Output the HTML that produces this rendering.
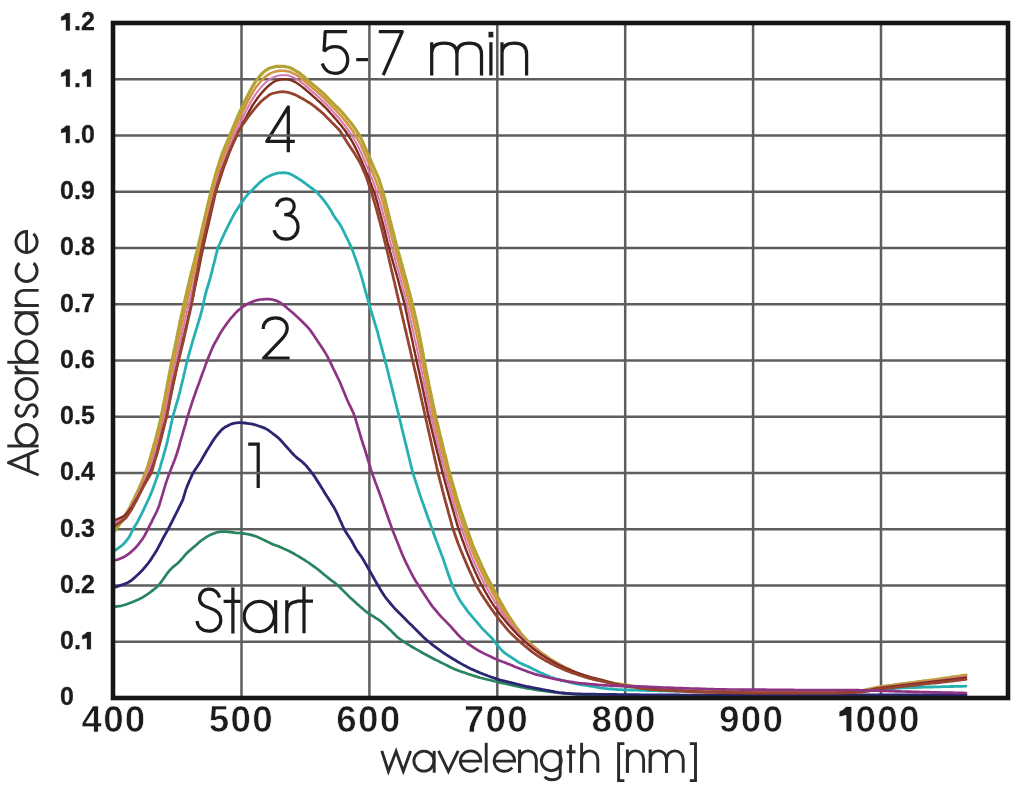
<!DOCTYPE html>
<html><head><meta charset="utf-8"><title>Absorbance chart</title>
<style>html,body{margin:0;padding:0;background:#fff;overflow:hidden}svg{display:block;filter:blur(0.35px)}</style>
</head><body>
<svg width="1024" height="785" viewBox="0 0 1024 785">
<rect width="1024" height="785" fill="#fff"/>
<g fill="none" stroke="#1c1c1c" stroke-width="3.25" stroke-linejoin="round"><path d="M347.1,31.7 H325.2 L324,51.5"/><path d="M324,51.5 C327,47.8 331,46.6 335.5,46.6 C342.5,46.6 347.7,52.3 347.7,60 C347.7,67.8 342.3,73.4 335.3,73.4 C329,73.4 324.3,69.5 322.2,63.5"/><path d="M356.2,59.6 H368"/><path d="M378.8,31.7 H402.3 L383.2,75.2"/><path d="M431.7,75.5 V42.2 M431.7,53 C431.7,46.5 436,43.2 444.2,43.2 C452.5,43.2 456.9,47 456.9,54 V75.5 M456.9,54 C456.9,47 461.2,43.2 469.2,43.2 C477.2,43.2 481.5,47 481.5,54 V75.5"/><path d="M490.9,42.2 V75.5"/><path d="M502,75.5 V42.2 M502,53 C502,46.5 506.5,43.2 514.3,43.2 C522.2,43.2 526.6,47 526.6,54 V75.5"/><path d="M288.3,152.2 V106.8 L266.8,141.3 H294.8"/><path d="M276.6,206.8 C277.3,201.6 281.2,198.8 286.4,198.8 C291.4,198.8 294.2,202.2 294.2,206.4 C294.2,211 290.8,214.6 285.2,214.6 H284.2 M285.2,214.6 C293,214.6 298,219.6 298,227.2 C298,234.2 292.8,239.2 286.2,239.2 C280,239.2 275.6,235.8 274,230.2"/><path d="M263.2,329 C263.2,322 268.5,317.9 275.6,317.9 C282.6,317.9 287.2,322.3 287.2,328.2 C287.2,332.5 285,335.6 282,338.8 L263.6,358.2 H289.6"/><path d="M248.2,444.2 H258.2 M258.2,442.6 V488"/><path d="M219.6,597.6 C217.8,592 213.8,589.2 209,589.2 C203.4,589.2 199.6,593.4 199.6,598.6 C199.6,604.6 205,606.6 210.2,608.2 C216.4,610 220.8,613 220.8,620.2 C220.8,627 215.6,631.2 209,631.2 C202.2,631.2 197.8,627 197,621"/><path d="M232.9,587.6 V633.4 M223.6,601.4 H241"/><path d="M275.6,600.2 V633.3"/><path d="M286.8,633.3 V600.2 M286.8,613.5 C286.8,606 290.6,601.5 297.2,601.5"/><path d="M304,586.8 V633.3 M296.5,601.2 H313"/><circle cx="259.3" cy="616.4" r="15.1"/></g><rect x="488.5" y="31.8" width="4.8" height="5.6" fill="#1e1e1e"/>
<g stroke="#5e5e5e" stroke-width="2.5"><line x1="113" y1="79.25" x2="1008" y2="79.25"/><line x1="113" y1="135.50" x2="1008" y2="135.50"/><line x1="113" y1="191.75" x2="1008" y2="191.75"/><line x1="113" y1="248.00" x2="1008" y2="248.00"/><line x1="113" y1="304.25" x2="1008" y2="304.25"/><line x1="113" y1="360.50" x2="1008" y2="360.50"/><line x1="113" y1="416.75" x2="1008" y2="416.75"/><line x1="113" y1="473.00" x2="1008" y2="473.00"/><line x1="113" y1="529.25" x2="1008" y2="529.25"/><line x1="113" y1="585.50" x2="1008" y2="585.50"/><line x1="113" y1="641.75" x2="1008" y2="641.75"/><line x1="241.50" y1="23" x2="241.50" y2="698"/><line x1="369.40" y1="23" x2="369.40" y2="698"/><line x1="497.30" y1="23" x2="497.30" y2="698"/><line x1="625.20" y1="23" x2="625.20" y2="698"/><line x1="753.10" y1="23" x2="753.10" y2="698"/><line x1="881.00" y1="23" x2="881.00" y2="698"/></g>
<path d="M113.0,607.0 L115.4,606.7 L117.2,606.4 L119.2,606.1 L121.3,605.8 L123.3,605.3 L125.3,604.7 L127.3,604.0 L129.3,603.2 L131.2,602.5 L133.2,601.7 L135.1,600.9 L137.1,600.1 L139.0,599.2 L140.9,598.3 L142.7,597.4 L144.5,596.2 L146.2,595.1 L148.0,593.9 L149.7,592.7 L151.4,591.4 L153.0,590.1 L154.7,588.8 L156.3,587.5 L157.8,586.0 L159.2,584.5 L160.5,582.9 L161.7,581.2 L163.0,579.5 L164.2,577.7 L165.4,576.0 L166.6,574.3 L167.8,572.6 L169.1,571.0 L170.5,569.4 L172.0,568.0 L173.6,566.6 L175.2,565.3 L176.8,563.9 L178.4,562.5 L179.9,561.1 L181.3,559.5 L182.7,557.9 L184.0,556.3 L185.4,554.7 L186.8,553.2 L188.3,551.7 L189.9,550.4 L191.5,549.0 L193.1,547.6 L194.7,546.2 L196.2,544.9 L197.8,543.5 L199.4,542.1 L201.0,540.8 L202.7,539.5 L204.5,538.3 L206.2,537.2 L208.0,536.1 L209.8,535.1 L211.7,534.2 L213.7,533.4 L215.6,532.7 L217.6,532.2 L219.7,531.8 L221.8,531.6 L223.9,531.5 L225.9,531.6 L228.0,531.8 L230.1,532.1 L232.2,532.4 L234.3,532.7 L236.3,532.9 L238.4,533.0 L240.5,533.2 L242.6,533.4 L244.7,533.7 L246.8,534.0 L248.8,534.4 L250.9,534.9 L252.9,535.4 L254.9,536.0 L256.9,536.8 L258.8,537.6 L260.7,538.5 L262.6,539.4 L264.5,540.3 L266.4,541.2 L268.3,542.1 L270.1,543.0 L272.1,543.9 L274.0,544.7 L276.0,545.4 L278.0,546.1 L279.9,546.9 L281.8,547.7 L283.7,548.6 L285.6,549.5 L287.5,550.4 L289.4,551.3 L291.3,552.3 L293.2,553.3 L295.0,554.3 L296.8,555.4 L298.6,556.4 L300.4,557.5 L302.2,558.6 L304.0,559.7 L305.7,560.8 L307.5,562.0 L309.2,563.2 L310.9,564.4 L312.7,565.6 L314.4,566.8 L316.1,568.0 L317.8,569.3 L319.4,570.6 L321.0,571.9 L322.6,573.3 L324.2,574.7 L325.9,576.0 L327.5,577.3 L329.1,578.6 L330.8,579.9 L332.5,581.2 L334.2,582.4 L335.8,583.7 L337.4,585.1 L339.0,586.5 L340.5,588.0 L341.9,589.4 L343.4,590.9 L344.9,592.4 L346.4,593.9 L347.9,595.4 L349.4,596.9 L350.9,598.3 L352.5,599.7 L354.0,601.1 L355.6,602.5 L357.2,603.9 L358.7,605.3 L360.3,606.7 L361.9,608.1 L363.5,609.5 L365.1,610.8 L366.8,612.1 L368.5,613.3 L370.2,614.5 L372.0,615.6 L373.8,616.7 L375.5,617.8 L377.3,618.9 L379.1,620.1 L380.8,621.3 L382.4,622.7 L383.9,624.1 L385.5,625.5 L387.0,626.9 L388.6,628.4 L390.1,629.8 L391.6,631.3 L393.0,632.8 L394.5,634.3 L396.0,635.8 L397.5,637.2 L399.2,638.5 L400.8,639.8 L402.6,640.9 L404.3,642.1 L406.1,643.2 L407.9,644.3 L409.7,645.4 L411.5,646.5 L413.3,647.5 L415.1,648.6 L417.0,649.6 L418.8,650.6 L420.6,651.7 L422.4,652.7 L424.3,653.8 L426.1,654.8 L427.9,655.8 L429.8,656.8 L431.7,657.8 L433.5,658.7 L435.4,659.7 L437.3,660.6 L439.2,661.5 L441.0,662.5 L442.9,663.4 L444.8,664.4 L446.7,665.3 L448.6,666.3 L450.4,667.2 L452.3,668.1 L454.3,668.9 L456.2,669.7 L458.2,670.5 L460.1,671.2 L462.1,671.9 L464.1,672.6 L466.1,673.3 L468.1,674.0 L470.1,674.6 L472.1,675.3 L474.1,675.9 L476.1,676.5 L478.1,677.1 L480.1,677.7 L482.2,678.2 L484.2,678.7 L486.2,679.2 L488.3,679.7 L490.3,680.2 L492.4,680.7 L494.4,681.2 L496.4,681.6 L498.5,682.1 L500.5,682.6 L502.6,683.1 L504.6,683.5 L506.7,684.0 L508.7,684.5 L510.8,684.9 L512.8,685.4 L514.9,685.8 L516.9,686.3 L519.0,686.7 L521.1,687.2 L523.1,687.5 L525.2,687.9 L527.3,688.3 L529.3,688.6 L531.4,689.0 L533.5,689.4 L535.5,689.7 L537.6,690.1 L539.7,690.4 L541.8,690.7 L543.8,691.0 L545.9,691.2 L548.0,691.5 L550.1,691.8 L552.2,692.0 L554.3,692.3 L556.4,692.5 L558.4,692.8 L560.5,693.0 L562.6,693.2 L564.7,693.4 L566.8,693.5 L568.9,693.7 L571.0,693.8 L573.1,694.0 L575.2,694.1 L577.3,694.3 L579.4,694.4 L581.5,694.5 L583.6,694.6 L585.7,694.6 L587.8,694.7 L589.9,694.7 L592.0,694.7 L594.1,694.8 L596.2,694.8 L598.3,694.9 L600.4,694.9 L602.5,694.9 L604.6,695.0 L606.7,695.0 L608.8,695.1 L610.9,695.1 L613.0,695.2 L615.1,695.2 L617.2,695.2 L619.3,695.3 L621.4,695.3 L623.5,695.3 L625.6,695.3 L627.7,695.3 L629.8,695.4 L631.9,695.4 L634.0,695.4 L636.1,695.4 L638.2,695.4 L640.3,695.4 L642.4,695.4 L644.5,695.5 L646.6,695.5 L648.7,695.5 L650.8,695.5 L652.9,695.5 L655.0,695.5 L657.1,695.5 L659.2,695.5 L661.3,695.6 L663.4,695.6 L665.5,695.6 L667.6,695.6 L669.7,695.6 L671.8,695.6 L673.9,695.6 L676.0,695.7 L678.1,695.7 L680.2,695.7 L682.3,695.7 L684.4,695.7 L686.5,695.7 L688.6,695.7 L690.7,695.7 L692.8,695.8 L694.9,695.8 L697.0,695.8 L699.1,695.8 L701.2,695.8 L703.3,695.8 L705.4,695.8 L707.5,695.8 L709.6,695.8 L711.7,695.8 L713.9,695.8 L716.0,695.8 L718.1,695.8 L720.2,695.8 L722.3,695.8 L724.4,695.8 L726.5,695.8 L728.6,695.8 L730.7,695.8 L732.8,695.8 L734.9,695.8 L737.0,695.8 L739.1,695.8 L741.2,695.8 L743.3,695.8 L745.4,695.8 L747.5,695.8 L749.6,695.8 L751.7,695.8 L753.8,695.8 L755.9,695.8 L758.0,695.8 L760.1,695.8 L762.2,695.8 L764.3,695.8 L766.4,695.8 L768.5,695.8 L770.6,695.8 L772.7,695.8 L774.8,695.8 L776.9,695.8 L779.0,695.8 L781.1,695.8 L783.2,695.8 L785.3,695.8 L787.4,695.8 L789.5,695.8 L791.6,695.8 L793.7,695.8 L795.8,695.8 L797.9,695.8 L800.0,695.8 L802.1,695.8 L804.2,695.8 L806.3,695.8 L808.4,695.8 L810.5,695.8 L812.6,695.8 L814.7,695.7 L816.8,695.7 L818.9,695.7 L821.0,695.7 L823.1,695.7 L825.2,695.7 L827.3,695.7 L829.4,695.7 L831.5,695.7 L833.6,695.7 L835.7,695.7 L837.8,695.7 L839.9,695.7 L842.0,695.6 L844.1,695.6 L846.2,695.6 L848.3,695.6 L850.4,695.6 L852.5,695.6 L854.6,695.6 L856.7,695.6 L858.8,695.6 L860.9,695.6 L863.0,695.6 L865.1,695.6 L867.2,695.5 L869.3,695.5 L871.4,695.5 L873.5,695.5 L875.6,695.5 L877.7,695.5 L879.8,695.5 L882.0,695.5 L884.1,695.5 L886.2,695.5 L888.3,695.5 L890.4,695.5 L892.5,695.5 L894.6,695.4 L896.7,695.4 L898.8,695.4 L900.9,695.4 L903.0,695.4 L905.1,695.4 L907.2,695.4 L909.3,695.4 L911.4,695.4 L913.5,695.4 L915.6,695.4 L917.7,695.4 L919.8,695.4 L921.9,695.4 L924.0,695.3 L926.1,695.3 L928.2,695.3 L930.3,695.3 L932.4,695.3 L934.5,695.3 L936.6,695.3 L938.7,695.3 L940.8,695.3 L942.9,695.3 L945.0,695.3 L947.1,695.3 L949.2,695.3 L951.3,695.3 L953.4,695.2 L955.5,695.2 L957.6,695.2 L959.7,695.2 L961.8,695.2 L963.6,695.2 L966.0,695.2 L966.0,695.2" fill="none" stroke="#28845e" stroke-width="2.7" stroke-linejoin="round" stroke-linecap="round"/>
<path d="M113.0,588.0 L115.2,587.2 L117.0,586.6 L118.9,585.9 L120.9,585.2 L122.9,584.6 L124.9,583.9 L126.8,583.1 L128.7,582.2 L130.4,581.0 L132.1,579.8 L133.7,578.4 L135.3,577.0 L136.8,575.6 L138.3,574.2 L139.8,572.7 L141.3,571.2 L142.8,569.7 L144.1,568.1 L145.5,566.5 L146.8,564.9 L148.2,563.3 L149.4,561.6 L150.6,559.9 L151.8,558.1 L152.9,556.3 L154.1,554.6 L155.2,552.8 L156.3,551.0 L157.3,549.2 L158.3,547.4 L159.3,545.5 L160.3,543.6 L161.3,541.8 L162.2,539.9 L163.2,538.0 L164.2,536.2 L165.2,534.4 L166.2,532.5 L167.3,530.7 L168.3,528.8 L169.3,527.0 L170.2,525.1 L171.2,523.3 L172.1,521.4 L173.1,519.5 L174.0,517.6 L174.9,515.7 L175.9,513.9 L176.8,512.0 L177.8,510.1 L178.7,508.2 L179.6,506.3 L180.6,504.5 L181.5,502.6 L182.4,500.7 L183.2,498.7 L183.8,496.7 L184.4,494.7 L185.0,492.7 L185.6,490.7 L186.2,488.7 L187.0,486.7 L187.7,484.8 L188.6,482.9 L189.4,480.9 L190.3,479.0 L191.1,477.1 L192.0,475.2 L193.0,473.3 L194.0,471.5 L195.1,469.8 L196.3,468.0 L197.5,466.3 L198.6,464.5 L199.8,462.7 L200.9,460.9 L201.9,459.1 L202.9,457.3 L204.0,455.5 L205.0,453.7 L206.1,451.8 L207.2,450.0 L208.3,448.2 L209.4,446.5 L210.5,444.7 L211.6,442.9 L212.7,441.1 L213.9,439.4 L215.1,437.7 L216.4,436.0 L217.7,434.4 L219.0,432.7 L220.4,431.2 L221.8,429.6 L223.4,428.3 L225.1,427.1 L226.9,426.2 L228.8,425.2 L230.7,424.3 L232.6,423.6 L234.7,423.1 L236.7,422.9 L238.8,422.7 L240.9,422.6 L243.0,422.8 L245.1,423.0 L247.1,423.3 L249.2,423.6 L251.3,423.9 L253.3,424.4 L255.3,424.9 L257.3,425.5 L259.3,426.2 L261.3,426.9 L263.3,427.6 L265.2,428.4 L267.0,429.4 L268.8,430.5 L270.5,431.8 L272.1,433.0 L273.8,434.3 L275.5,435.6 L277.1,436.9 L278.7,438.2 L280.2,439.7 L281.6,441.2 L283.0,442.8 L284.4,444.4 L285.8,446.0 L287.2,447.5 L288.6,449.1 L290.0,450.7 L291.4,452.3 L292.8,453.8 L294.2,455.3 L295.8,456.7 L297.4,458.1 L299.0,459.4 L300.7,460.7 L302.3,462.0 L303.9,463.4 L305.4,464.9 L306.8,466.4 L308.1,468.1 L309.4,469.7 L310.7,471.3 L312.0,473.0 L313.3,474.6 L314.5,476.4 L315.6,478.1 L316.7,479.9 L317.9,481.7 L319.0,483.5 L320.1,485.3 L321.2,487.1 L322.3,488.8 L323.4,490.6 L324.5,492.4 L325.6,494.2 L326.7,496.0 L327.9,497.7 L329.0,499.5 L330.1,501.3 L331.2,503.1 L332.3,504.9 L333.5,506.6 L334.5,508.4 L335.5,510.3 L336.5,512.2 L337.4,514.1 L338.2,516.0 L339.1,517.9 L339.9,519.8 L340.8,521.7 L341.7,523.6 L342.5,525.6 L343.4,527.5 L344.3,529.3 L345.4,531.2 L346.5,532.9 L347.6,534.7 L348.8,536.4 L349.9,538.2 L351.1,540.0 L352.1,541.8 L353.1,543.6 L354.1,545.5 L355.1,547.3 L356.1,549.2 L357.2,550.9 L358.5,552.6 L359.7,554.3 L361.0,556.0 L362.1,557.7 L363.2,559.5 L364.3,561.4 L365.3,563.2 L366.4,565.0 L367.4,566.8 L368.4,568.7 L369.5,570.5 L370.5,572.3 L371.5,574.1 L372.6,576.0 L373.6,577.8 L374.6,579.6 L375.7,581.5 L376.7,583.3 L377.8,585.1 L378.9,586.9 L379.9,588.7 L381.0,590.5 L382.1,592.3 L383.2,594.1 L384.4,595.8 L385.6,597.5 L386.9,599.2 L388.3,600.8 L389.6,602.4 L390.9,604.0 L392.3,605.6 L393.6,607.2 L395.0,608.8 L396.5,610.3 L398.0,611.8 L399.5,613.3 L401.0,614.7 L402.5,616.2 L404.0,617.7 L405.5,619.2 L406.9,620.7 L408.4,622.2 L409.9,623.7 L411.4,625.1 L412.9,626.6 L414.3,628.1 L415.8,629.6 L417.3,631.1 L418.8,632.6 L420.3,634.1 L421.8,635.6 L423.3,637.0 L424.8,638.4 L426.4,639.8 L428.0,641.2 L429.6,642.5 L431.3,643.8 L432.9,645.1 L434.6,646.4 L436.3,647.7 L438.0,648.9 L439.7,650.1 L441.4,651.4 L443.1,652.6 L444.8,653.7 L446.6,654.9 L448.4,656.0 L450.2,657.1 L451.9,658.2 L453.7,659.3 L455.5,660.4 L457.3,661.5 L459.1,662.5 L461.0,663.6 L462.8,664.6 L464.6,665.6 L466.5,666.6 L468.3,667.6 L470.2,668.5 L472.1,669.4 L474.1,670.2 L476.0,671.1 L477.9,671.9 L479.9,672.7 L481.8,673.5 L483.8,674.3 L485.7,675.0 L487.7,675.8 L489.7,676.5 L491.6,677.2 L493.6,677.9 L495.6,678.6 L497.6,679.2 L499.6,679.8 L501.6,680.3 L503.7,680.8 L505.7,681.3 L507.8,681.8 L509.8,682.3 L511.9,682.8 L513.9,683.3 L515.9,683.9 L518.0,684.4 L520.0,684.9 L522.0,685.4 L524.1,685.8 L526.2,686.3 L528.2,686.7 L530.3,687.1 L532.3,687.5 L534.4,687.9 L536.5,688.3 L538.5,688.7 L540.6,689.1 L542.6,689.5 L544.7,689.9 L546.8,690.3 L548.8,690.7 L550.9,691.1 L553.0,691.5 L555.0,691.9 L557.1,692.2 L559.2,692.6 L561.2,692.8 L563.3,693.0 L565.4,693.2 L567.5,693.3 L569.6,693.5 L571.7,693.6 L573.8,693.8 L575.9,693.9 L578.0,694.0 L580.1,694.0 L582.2,694.1 L584.3,694.1 L586.4,694.1 L588.5,694.2 L590.6,694.2 L592.7,694.2 L594.8,694.2 L596.9,694.3 L599.0,694.3 L601.1,694.3 L603.2,694.4 L605.3,694.4 L607.4,694.4 L609.5,694.5 L611.6,694.5 L613.7,694.5 L615.8,694.5 L617.9,694.6 L620.0,694.6 L622.1,694.6 L624.2,694.6 L626.3,694.6 L628.4,694.7 L630.5,694.7 L632.6,694.7 L634.7,694.7 L636.8,694.7 L638.9,694.7 L641.0,694.8 L643.1,694.8 L645.2,694.8 L647.3,694.8 L649.4,694.8 L651.5,694.8 L653.6,694.9 L655.7,694.9 L657.8,694.9 L659.9,694.9 L662.0,694.9 L664.1,694.9 L666.2,694.9 L668.3,695.0 L670.4,695.0 L672.6,695.0 L674.7,695.0 L676.8,695.0 L678.9,695.0 L681.0,695.1 L683.1,695.1 L685.2,695.1 L687.3,695.1 L689.4,695.1 L691.5,695.1 L693.6,695.2 L695.7,695.2 L697.8,695.2 L699.9,695.2 L702.0,695.2 L704.1,695.2 L706.2,695.2 L708.3,695.2 L710.4,695.2 L712.5,695.2 L714.6,695.2 L716.7,695.2 L718.8,695.2 L720.9,695.2 L723.0,695.2 L725.1,695.2 L727.2,695.2 L729.3,695.2 L731.4,695.2 L733.5,695.2 L735.6,695.2 L737.7,695.2 L739.8,695.2 L741.9,695.2 L744.0,695.2 L746.1,695.2 L748.2,695.2 L750.3,695.2 L752.4,695.2 L754.5,695.2 L756.6,695.2 L758.7,695.2 L760.8,695.2 L762.9,695.2 L765.0,695.2 L767.1,695.2 L769.2,695.2 L771.3,695.2 L773.4,695.2 L775.5,695.2 L777.6,695.2 L779.7,695.2 L781.8,695.2 L783.9,695.2 L786.0,695.2 L788.1,695.2 L790.2,695.2 L792.3,695.2 L794.4,695.2 L796.5,695.2 L798.6,695.2 L800.7,695.2 L802.8,695.2 L804.9,695.2 L807.0,695.2 L809.1,695.2 L811.2,695.2 L813.3,695.2 L815.4,695.2 L817.5,695.2 L819.6,695.2 L821.7,695.1 L823.8,695.1 L825.9,695.1 L828.0,695.1 L830.1,695.1 L832.2,695.1 L834.3,695.1 L836.4,695.1 L838.5,695.1 L840.6,695.1 L842.7,695.1 L844.8,695.1 L846.9,695.1 L849.0,695.1 L851.1,695.1 L853.2,695.1 L855.3,695.1 L857.4,695.1 L859.5,695.1 L861.6,695.0 L863.7,695.0 L865.8,695.0 L868.0,695.0 L870.1,695.0 L872.2,695.0 L874.3,695.0 L876.4,695.0 L878.5,695.0 L880.6,695.0 L882.7,695.0 L884.8,695.0 L886.9,695.0 L889.0,695.0 L891.1,694.9 L893.2,694.9 L895.3,694.9 L897.4,694.9 L899.5,694.9 L901.6,694.9 L903.7,694.9 L905.8,694.9 L907.9,694.9 L910.0,694.9 L912.1,694.9 L914.2,694.8 L916.3,694.8 L918.4,694.8 L920.5,694.8 L922.6,694.8 L924.7,694.8 L926.8,694.8 L928.9,694.8 L931.0,694.8 L933.1,694.8 L935.2,694.7 L937.3,694.7 L939.4,694.7 L941.5,694.7 L943.6,694.7 L945.7,694.7 L947.8,694.7 L949.9,694.7 L952.0,694.7 L954.1,694.7 L956.2,694.6 L958.3,694.6 L960.4,694.6 L962.4,694.6 L964.2,694.6 L966.0,694.6" fill="none" stroke="#2a2672" stroke-width="2.8" stroke-linejoin="round" stroke-linecap="round"/>
<path d="M113.0,551.5 L115.0,550.3 L116.6,549.3 L118.3,548.1 L120.0,546.9 L121.7,545.7 L123.2,544.3 L124.7,542.8 L126.0,541.2 L127.3,539.5 L128.6,537.9 L129.7,536.1 L130.6,534.2 L131.6,532.3 L132.5,530.5 L133.5,528.6 L134.5,526.8 L135.6,525.0 L136.7,523.2 L137.7,521.4 L138.7,519.5 L139.7,517.6 L140.6,515.8 L141.6,513.9 L142.5,512.0 L143.4,510.1 L144.3,508.2 L145.2,506.3 L146.1,504.4 L147.0,502.5 L147.9,500.6 L148.8,498.7 L149.6,496.8 L150.4,494.9 L151.2,492.9 L152.0,491.0 L152.8,489.0 L153.5,487.1 L154.2,485.1 L154.9,483.1 L155.6,481.1 L156.3,479.1 L157.0,477.2 L157.7,475.2 L158.4,473.2 L159.0,471.2 L159.6,469.2 L160.2,467.1 L160.7,465.1 L161.3,463.1 L161.9,461.1 L162.5,459.1 L163.1,457.1 L163.6,455.0 L164.2,453.0 L164.8,451.0 L165.4,449.0 L165.9,447.0 L166.5,444.9 L167.0,442.9 L167.5,440.8 L167.9,438.8 L168.4,436.7 L168.8,434.7 L169.3,432.6 L169.7,430.6 L170.2,428.5 L170.6,426.5 L171.1,424.4 L171.6,422.4 L172.0,420.3 L172.5,418.3 L173.0,416.3 L173.5,414.2 L174.1,412.2 L174.7,410.2 L175.3,408.2 L175.8,406.2 L176.4,404.1 L177.0,402.1 L177.6,400.1 L178.2,398.1 L178.7,396.1 L179.3,394.0 L179.8,392.0 L180.3,390.0 L180.8,387.9 L181.3,385.9 L181.8,383.8 L182.3,381.8 L182.8,379.8 L183.3,377.7 L183.7,375.7 L184.2,373.6 L184.7,371.6 L185.1,369.5 L185.6,367.5 L186.1,365.4 L186.5,363.4 L187.0,361.3 L187.6,359.3 L188.1,357.3 L188.7,355.3 L189.3,353.2 L189.8,351.2 L190.4,349.2 L191.0,347.2 L191.5,345.2 L192.1,343.1 L192.7,341.1 L193.3,339.1 L193.9,337.1 L194.5,335.1 L195.1,333.1 L195.7,331.1 L196.3,329.1 L197.0,327.1 L197.6,325.0 L198.2,323.0 L198.8,321.0 L199.4,319.0 L200.0,317.0 L200.6,315.0 L201.1,313.0 L201.7,310.9 L202.2,308.9 L202.7,306.9 L203.2,304.8 L203.6,302.8 L204.0,300.7 L204.5,298.7 L204.9,296.6 L205.4,294.6 L206.0,292.5 L206.5,290.5 L207.1,288.5 L207.7,286.5 L208.3,284.5 L208.9,282.5 L209.5,280.5 L210.1,278.4 L210.7,276.4 L211.2,274.4 L211.7,272.3 L212.2,270.3 L212.7,268.3 L213.2,266.2 L213.8,264.2 L214.3,262.2 L214.8,260.1 L215.3,258.1 L215.8,256.0 L216.3,254.0 L216.8,252.0 L217.3,249.9 L218.0,247.9 L218.7,246.0 L219.6,244.1 L220.4,242.2 L221.3,240.3 L222.2,238.3 L223.1,236.4 L223.9,234.5 L224.8,232.6 L225.7,230.7 L226.7,228.9 L227.6,227.0 L228.5,225.1 L229.5,223.2 L230.4,221.3 L231.3,219.4 L232.3,217.6 L233.3,215.7 L234.3,213.9 L235.4,212.1 L236.5,210.3 L237.7,208.6 L238.8,206.8 L240.0,205.1 L241.1,203.3 L242.3,201.6 L243.6,199.9 L244.8,198.2 L246.1,196.5 L247.4,194.9 L248.8,193.4 L250.3,191.9 L251.8,190.4 L253.3,189.0 L254.7,187.4 L256.2,185.9 L257.7,184.4 L259.2,183.0 L260.8,181.6 L262.4,180.3 L264.1,179.0 L265.8,177.9 L267.6,176.9 L269.5,176.0 L271.4,175.1 L273.4,174.4 L275.4,173.7 L277.4,173.2 L279.5,172.9 L281.5,172.8 L283.6,172.7 L285.7,172.8 L287.7,173.2 L289.7,173.8 L291.6,174.7 L293.4,175.6 L295.2,176.7 L297.0,177.8 L298.8,178.9 L300.6,180.0 L302.3,181.2 L304.0,182.5 L305.7,183.7 L307.3,185.0 L309.0,186.2 L310.7,187.5 L312.4,188.7 L314.1,189.9 L315.7,191.3 L317.2,192.7 L318.7,194.3 L320.0,195.8 L321.4,197.4 L322.8,199.0 L324.1,200.7 L325.3,202.3 L326.6,204.0 L327.8,205.7 L329.0,207.4 L330.1,209.2 L331.2,211.0 L332.2,212.8 L333.3,214.7 L334.4,216.5 L335.5,218.2 L336.7,219.9 L338.0,221.6 L339.2,223.3 L340.3,225.1 L341.4,226.9 L342.4,228.8 L343.3,230.6 L344.2,232.5 L345.1,234.4 L346.0,236.3 L346.9,238.2 L347.9,240.1 L348.8,242.0 L349.7,243.9 L350.6,245.8 L351.4,247.7 L352.2,249.6 L353.0,251.6 L353.7,253.6 L354.4,255.5 L355.1,257.5 L355.8,259.5 L356.5,261.5 L357.2,263.5 L357.9,265.5 L358.5,267.4 L359.2,269.4 L359.9,271.4 L360.5,273.4 L361.1,275.4 L361.7,277.4 L362.3,279.5 L362.8,281.5 L363.4,283.5 L363.9,285.5 L364.5,287.6 L365.1,289.6 L365.6,291.6 L366.2,293.6 L366.7,295.7 L367.3,297.7 L367.9,299.7 L368.4,301.7 L369.0,303.7 L369.6,305.8 L370.2,307.8 L370.8,309.8 L371.4,311.8 L372.1,313.8 L372.7,315.8 L373.3,317.8 L373.9,319.8 L374.5,321.8 L375.1,323.8 L375.7,325.8 L376.3,327.9 L376.9,329.9 L377.5,331.9 L378.0,333.9 L378.5,336.0 L379.1,338.0 L379.6,340.0 L380.2,342.1 L380.7,344.1 L381.3,346.1 L381.8,348.1 L382.3,350.2 L382.9,352.2 L383.4,354.2 L384.0,356.3 L384.5,358.3 L385.0,360.3 L385.5,362.4 L386.1,364.4 L386.6,366.4 L387.1,368.5 L387.6,370.5 L388.1,372.5 L388.6,374.6 L389.1,376.6 L389.6,378.6 L390.2,380.7 L390.7,382.7 L391.2,384.8 L391.7,386.8 L392.2,388.8 L392.7,390.9 L393.2,392.9 L393.7,394.9 L394.2,397.0 L394.7,399.0 L395.2,401.1 L395.7,403.1 L396.2,405.1 L396.7,407.2 L397.2,409.2 L397.8,411.3 L398.3,413.3 L398.8,415.3 L399.3,417.4 L399.8,419.4 L400.3,421.4 L400.8,423.5 L401.3,425.5 L401.7,427.6 L402.2,429.6 L402.7,431.6 L403.2,433.7 L403.7,435.7 L404.2,437.8 L404.7,439.8 L405.2,441.9 L405.7,443.9 L406.2,445.9 L406.7,448.0 L407.2,450.0 L407.7,452.1 L408.2,454.1 L408.7,456.1 L409.2,458.2 L409.7,460.2 L410.2,462.3 L410.7,464.3 L411.2,466.3 L411.7,468.4 L412.2,470.4 L412.8,472.4 L413.4,474.4 L414.0,476.5 L414.6,478.4 L415.3,480.4 L415.9,482.4 L416.6,484.4 L417.2,486.4 L417.9,488.4 L418.5,490.4 L419.2,492.4 L419.8,494.4 L420.5,496.4 L421.2,498.4 L421.9,500.4 L422.6,502.4 L423.3,504.3 L424.0,506.3 L424.7,508.3 L425.4,510.3 L426.1,512.3 L426.8,514.2 L427.5,516.2 L428.2,518.2 L428.9,520.2 L429.7,522.1 L430.4,524.1 L431.1,526.1 L431.8,528.1 L432.5,530.0 L433.2,532.0 L433.9,534.0 L434.6,536.0 L435.3,538.0 L436.0,539.9 L436.8,541.9 L437.5,543.9 L438.2,545.8 L439.0,547.8 L439.7,549.7 L440.5,551.7 L441.2,553.7 L442.0,555.6 L442.7,557.6 L443.4,559.6 L444.1,561.6 L444.7,563.6 L445.4,565.6 L446.1,567.6 L446.7,569.5 L447.4,571.5 L448.1,573.5 L448.8,575.5 L449.5,577.5 L450.2,579.5 L450.9,581.4 L451.7,583.4 L452.4,585.4 L453.2,587.3 L454.1,589.2 L455.0,591.1 L455.9,593.0 L456.9,594.8 L457.9,596.7 L458.9,598.5 L459.9,600.3 L461.1,602.1 L462.3,603.8 L463.5,605.5 L464.7,607.2 L466.0,608.9 L467.2,610.6 L468.5,612.3 L469.9,613.9 L471.2,615.5 L472.6,617.1 L473.9,618.7 L475.3,620.3 L476.7,621.9 L478.0,623.5 L479.4,625.1 L480.7,626.7 L482.1,628.3 L483.5,629.8 L485.0,631.3 L486.5,632.8 L488.0,634.2 L489.5,635.7 L491.0,637.2 L492.4,638.7 L493.7,640.4 L495.0,642.1 L496.2,643.7 L497.5,645.4 L498.9,647.0 L500.2,648.6 L501.6,650.1 L503.1,651.6 L504.7,652.9 L506.4,654.1 L508.2,655.3 L509.9,656.4 L511.7,657.6 L513.4,658.8 L515.2,659.9 L516.9,661.1 L518.7,662.2 L520.6,663.2 L522.4,664.1 L524.4,664.9 L526.3,665.8 L528.2,666.6 L530.1,667.5 L532.0,668.4 L533.9,669.4 L535.8,670.3 L537.6,671.2 L539.5,672.2 L541.4,673.1 L543.3,673.9 L545.3,674.8 L547.2,675.6 L549.1,676.4 L551.0,677.2 L553.0,677.9 L555.0,678.5 L557.1,679.1 L559.1,679.6 L561.1,680.1 L563.2,680.6 L565.2,681.1 L567.2,681.7 L569.3,682.2 L571.3,682.7 L573.3,683.2 L575.4,683.7 L577.4,684.1 L579.5,684.4 L581.6,684.8 L583.7,685.1 L585.7,685.4 L587.8,685.7 L589.9,686.0 L592.0,686.3 L594.0,686.7 L596.1,687.0 L598.2,687.4 L600.2,687.8 L602.3,688.1 L604.4,688.4 L606.5,688.6 L608.6,688.8 L610.7,689.0 L612.8,689.2 L614.8,689.3 L616.9,689.5 L619.0,689.6 L621.1,689.7 L623.2,689.8 L625.3,689.8 L627.4,689.9 L629.5,690.0 L631.6,690.0 L633.7,690.1 L635.8,690.2 L637.9,690.2 L640.0,690.3 L642.1,690.4 L644.2,690.4 L646.3,690.5 L648.4,690.5 L650.5,690.6 L652.6,690.7 L654.7,690.7 L656.8,690.7 L658.9,690.8 L661.0,690.8 L663.1,690.9 L665.2,690.9 L667.3,690.9 L669.4,691.0 L671.5,691.0 L673.6,691.1 L675.7,691.1 L677.8,691.2 L679.9,691.2 L682.0,691.2 L684.1,691.3 L686.2,691.3 L688.3,691.4 L690.4,691.4 L692.5,691.5 L694.6,691.5 L696.7,691.5 L698.8,691.6 L700.9,691.6 L703.0,691.6 L705.1,691.6 L707.2,691.6 L709.3,691.7 L711.4,691.7 L713.5,691.7 L715.6,691.7 L717.7,691.7 L719.8,691.7 L721.9,691.7 L724.0,691.7 L726.1,691.8 L728.2,691.8 L730.3,691.8 L732.4,691.8 L734.5,691.8 L736.6,691.8 L738.7,691.8 L740.8,691.8 L742.9,691.9 L745.0,691.9 L747.1,691.9 L749.2,691.9 L751.3,691.9 L753.4,691.9 L755.5,691.9 L757.6,691.9 L759.7,692.0 L761.8,692.0 L763.9,692.0 L766.0,692.0 L768.1,692.0 L770.2,692.0 L772.3,692.0 L774.4,692.0 L776.5,692.1 L778.6,692.1 L780.7,692.1 L782.8,692.1 L784.9,692.1 L787.0,692.1 L789.1,692.1 L791.2,692.1 L793.3,692.2 L795.4,692.2 L797.5,692.2 L799.6,692.2 L801.7,692.2 L803.8,692.2 L805.9,692.2 L808.0,692.1 L810.1,692.1 L812.2,692.1 L814.3,692.1 L816.4,692.1 L818.5,692.1 L820.6,692.1 L822.7,692.0 L824.8,692.0 L826.9,692.0 L829.0,692.0 L831.1,692.0 L833.2,692.0 L835.3,692.0 L837.4,692.0 L839.5,691.9 L841.6,691.9 L843.7,691.9 L845.8,691.9 L847.9,691.9 L850.0,691.9 L852.1,691.9 L854.2,691.8 L856.3,691.8 L858.4,691.8 L860.5,691.7 L862.6,691.5 L864.7,691.3 L866.8,691.0 L868.9,690.8 L870.9,690.5 L873.0,690.3 L875.1,690.1 L877.2,689.8 L879.3,689.6 L881.4,689.4 L883.5,689.2 L885.6,689.1 L887.7,688.9 L889.8,688.8 L891.8,688.6 L893.9,688.5 L896.0,688.3 L898.1,688.2 L900.2,688.0 L902.3,687.9 L904.4,687.9 L906.5,687.8 L908.6,687.7 L910.7,687.6 L912.8,687.6 L914.9,687.5 L917.0,687.4 L919.1,687.4 L921.2,687.3 L923.3,687.2 L925.4,687.2 L927.5,687.1 L929.6,687.0 L931.7,687.0 L933.8,686.9 L935.9,686.9 L938.0,686.8 L940.1,686.8 L942.2,686.7 L944.3,686.7 L946.4,686.6 L948.5,686.6 L950.6,686.5 L952.7,686.5 L954.8,686.4 L956.9,686.4 L959.0,686.4 L961.1,686.3 L963.0,686.3 L964.6,686.2 L966.0,686.2" fill="none" stroke="#27b0b2" stroke-width="2.8" stroke-linejoin="round" stroke-linecap="round"/>
<path d="M113.0,533.0 L114.4,531.1 L115.6,529.6 L116.8,528.0 L118.1,526.3 L119.3,524.6 L120.6,522.9 L121.8,521.2 L122.9,519.4 L124.0,517.6 L125.0,515.8 L126.1,514.0 L127.1,512.2 L128.2,510.4 L129.2,508.5 L130.2,506.7 L131.1,504.8 L132.0,502.9 L133.0,501.0 L133.9,499.2 L134.8,497.3 L135.7,495.4 L136.6,493.5 L137.5,491.6 L138.4,489.7 L139.3,487.7 L140.1,485.8 L141.0,483.9 L141.8,482.0 L142.6,480.0 L143.4,478.1 L144.1,476.1 L144.9,474.2 L145.7,472.2 L146.4,470.3 L147.1,468.3 L147.8,466.3 L148.4,464.3 L149.0,462.3 L149.6,460.2 L150.2,458.2 L150.8,456.2 L151.3,454.2 L151.9,452.2 L152.5,450.2 L153.1,448.1 L153.6,446.1 L154.2,444.1 L154.8,442.1 L155.3,440.0 L155.9,438.0 L156.4,436.0 L157.0,434.0 L157.5,431.9 L158.0,429.9 L158.5,427.9 L159.0,425.8 L159.5,423.8 L160.0,421.7 L160.4,419.7 L160.9,417.6 L161.4,415.6 L161.8,413.5 L162.2,411.5 L162.6,409.4 L163.0,407.4 L163.4,405.3 L163.8,403.2 L164.3,401.2 L164.7,399.1 L165.1,397.1 L165.4,395.0 L165.8,392.9 L166.2,390.9 L166.6,388.8 L167.0,386.7 L167.3,384.7 L167.7,382.6 L168.1,380.5 L168.5,378.5 L168.9,376.4 L169.3,374.3 L169.7,372.3 L170.1,370.2 L170.5,368.2 L170.9,366.1 L171.3,364.0 L171.7,362.0 L172.1,359.9 L172.6,357.9 L173.0,355.8 L173.5,353.8 L173.9,351.7 L174.3,349.6 L174.8,347.6 L175.2,345.5 L175.7,343.5 L176.1,341.4 L176.5,339.4 L176.9,337.3 L177.3,335.3 L177.8,333.2 L178.2,331.1 L178.6,329.1 L179.0,327.0 L179.4,325.0 L179.8,322.9 L180.2,320.8 L180.7,318.8 L181.1,316.7 L181.6,314.7 L182.1,312.6 L182.5,310.6 L183.0,308.5 L183.5,306.5 L183.9,304.4 L184.4,302.4 L184.9,300.4 L185.3,298.3 L185.8,296.3 L186.3,294.2 L186.8,292.2 L187.2,290.1 L187.7,288.1 L188.2,286.0 L188.7,284.0 L189.1,281.9 L189.6,279.9 L190.1,277.9 L190.6,275.8 L191.1,273.8 L191.6,271.7 L192.2,269.7 L192.7,267.7 L193.2,265.6 L193.7,263.6 L194.3,261.6 L194.8,259.5 L195.3,257.5 L195.8,255.5 L196.4,253.4 L196.9,251.4 L197.4,249.4 L197.9,247.3 L198.4,245.3 L198.9,243.2 L199.3,241.2 L199.8,239.2 L200.3,237.1 L200.8,235.1 L201.2,233.0 L201.7,231.0 L202.2,228.9 L202.7,226.9 L203.1,224.8 L203.6,222.8 L204.1,220.7 L204.6,218.7 L205.1,216.7 L205.5,214.6 L206.0,212.6 L206.5,210.5 L207.0,208.5 L207.5,206.4 L207.9,204.4 L208.4,202.3 L208.9,200.3 L209.4,198.3 L209.9,196.2 L210.4,194.2 L210.9,192.1 L211.4,190.1 L211.9,188.1 L212.5,186.0 L213.0,184.0 L213.6,182.0 L214.1,180.0 L214.7,177.9 L215.2,175.9 L215.8,173.9 L216.4,171.9 L217.0,169.9 L217.6,167.9 L218.3,165.9 L218.9,163.9 L219.5,161.8 L220.2,159.8 L220.8,157.8 L221.4,155.9 L222.1,153.9 L222.9,151.9 L223.7,150.0 L224.5,148.0 L225.3,146.1 L226.1,144.2 L227.0,142.2 L227.8,140.3 L228.6,138.4 L229.4,136.4 L230.2,134.5 L231.0,132.5 L231.8,130.6 L232.6,128.7 L233.4,126.7 L234.2,124.8 L235.0,122.8 L235.8,120.9 L236.6,119.0 L237.5,117.0 L238.3,115.1 L239.2,113.2 L240.1,111.3 L241.0,109.4 L241.9,107.5 L242.8,105.6 L243.7,103.7 L244.6,101.8 L245.5,99.9 L246.5,98.1 L247.4,96.2 L248.4,94.3 L249.3,92.4 L250.3,90.6 L251.3,88.7 L252.3,86.9 L253.3,85.1 L254.4,83.3 L255.6,81.5 L256.8,79.8 L258.1,78.2 L259.5,76.6 L260.8,75.0 L262.3,73.5 L263.7,72.0 L265.3,70.7 L267.1,69.5 L268.9,68.5 L270.8,67.8 L272.8,67.2 L274.8,66.7 L276.9,66.4 L279.0,66.3 L281.1,66.3 L283.2,66.4 L285.2,66.7 L287.3,67.0 L289.3,67.5 L291.2,68.3 L293.1,69.2 L294.9,70.3 L296.7,71.3 L298.5,72.4 L300.2,73.6 L301.8,75.0 L303.4,76.3 L305.0,77.7 L306.5,79.1 L308.1,80.5 L309.7,81.8 L311.3,83.2 L312.9,84.5 L314.6,85.9 L316.2,87.2 L317.8,88.6 L319.4,89.9 L321.0,91.3 L322.5,92.7 L324.0,94.2 L325.5,95.7 L327.0,97.2 L328.5,98.7 L329.9,100.1 L331.4,101.6 L332.9,103.1 L334.4,104.6 L335.9,106.1 L337.4,107.5 L338.9,109.0 L340.4,110.5 L341.8,112.0 L343.2,113.6 L344.6,115.2 L345.9,116.8 L347.2,118.4 L348.6,120.1 L349.9,121.7 L351.2,123.3 L352.5,125.0 L353.7,126.7 L354.9,128.4 L356.1,130.2 L357.2,131.9 L358.4,133.7 L359.5,135.5 L360.5,137.3 L361.4,139.2 L362.3,141.1 L363.2,143.0 L364.0,144.9 L364.8,146.8 L365.7,148.8 L366.5,150.7 L367.4,152.6 L368.2,154.5 L369.1,156.5 L369.9,158.4 L370.7,160.3 L371.5,162.2 L372.4,164.2 L373.2,166.1 L374.0,168.0 L374.9,169.9 L375.8,171.9 L376.6,173.8 L377.5,175.7 L378.3,177.6 L379.0,179.6 L379.7,181.6 L380.4,183.6 L381.0,185.6 L381.6,187.6 L382.3,189.6 L382.9,191.6 L383.4,193.6 L383.9,195.6 L384.5,197.7 L385.0,199.7 L385.5,201.8 L386.0,203.8 L386.5,205.8 L387.0,207.9 L387.5,209.9 L388.0,211.9 L388.5,214.0 L389.0,216.0 L389.5,218.1 L390.0,220.1 L390.6,222.1 L391.1,224.2 L391.6,226.2 L392.1,228.2 L392.6,230.3 L393.2,232.3 L393.7,234.3 L394.2,236.4 L394.7,238.4 L395.3,240.4 L395.8,242.5 L396.3,244.5 L396.8,246.5 L397.4,248.6 L397.9,250.6 L398.5,252.6 L399.1,254.6 L399.6,256.7 L400.2,258.7 L400.7,260.7 L401.3,262.7 L401.9,264.8 L402.4,266.8 L403.0,268.8 L403.6,270.8 L404.1,272.9 L404.7,274.9 L405.2,276.9 L405.8,278.9 L406.3,281.0 L406.9,283.0 L407.4,285.0 L407.9,287.0 L408.5,289.1 L409.0,291.1 L409.6,293.1 L410.1,295.2 L410.6,297.2 L411.2,299.2 L411.7,301.3 L412.2,303.3 L412.7,305.3 L413.2,307.4 L413.7,309.4 L414.2,311.5 L414.7,313.5 L415.1,315.6 L415.6,317.6 L416.1,319.6 L416.6,321.7 L417.0,323.7 L417.5,325.8 L418.0,327.8 L418.4,329.9 L418.9,331.9 L419.3,334.0 L419.6,336.1 L420.0,338.1 L420.4,340.2 L420.8,342.3 L421.2,344.3 L421.6,346.4 L422.0,348.4 L422.4,350.5 L422.8,352.6 L423.2,354.6 L423.5,356.7 L423.9,358.8 L424.3,360.8 L424.7,362.9 L425.1,365.0 L425.5,367.0 L425.9,369.1 L426.3,371.1 L426.7,373.2 L427.1,375.3 L427.5,377.3 L427.9,379.4 L428.3,381.4 L428.7,383.5 L429.1,385.6 L429.6,387.6 L430.0,389.7 L430.4,391.7 L430.9,393.8 L431.3,395.8 L431.7,397.9 L432.2,400.0 L432.6,402.0 L433.0,404.1 L433.5,406.1 L433.9,408.2 L434.3,410.2 L434.8,412.3 L435.2,414.3 L435.6,416.4 L436.1,418.4 L436.6,420.5 L437.1,422.5 L437.6,424.6 L438.1,426.6 L438.6,428.6 L439.0,430.7 L439.5,432.7 L440.0,434.8 L440.5,436.8 L441.0,438.9 L441.5,440.9 L442.0,442.9 L442.5,445.0 L443.0,447.0 L443.5,449.1 L444.0,451.1 L444.5,453.1 L445.1,455.2 L445.6,457.2 L446.1,459.2 L446.6,461.3 L447.1,463.3 L447.6,465.4 L448.1,467.4 L448.6,469.4 L449.2,471.5 L449.7,473.5 L450.3,475.5 L450.9,477.5 L451.4,479.5 L452.0,481.6 L452.6,483.6 L453.2,485.6 L453.8,487.6 L454.4,489.6 L455.0,491.6 L455.6,493.7 L456.1,495.7 L456.7,497.7 L457.3,499.7 L458.0,501.7 L458.6,503.7 L459.3,505.7 L459.9,507.7 L460.6,509.7 L461.2,511.7 L461.9,513.7 L462.6,515.7 L463.2,517.7 L463.9,519.7 L464.5,521.7 L465.2,523.7 L465.8,525.6 L466.5,527.6 L467.2,529.6 L467.9,531.6 L468.6,533.6 L469.3,535.6 L470.0,537.5 L470.7,539.5 L471.4,541.5 L472.1,543.5 L472.9,545.4 L473.6,547.4 L474.5,549.3 L475.3,551.2 L476.1,553.2 L477.0,555.1 L477.8,557.0 L478.7,558.9 L479.5,560.9 L480.4,562.8 L481.3,564.7 L482.1,566.6 L483.0,568.5 L483.9,570.4 L484.8,572.3 L485.7,574.2 L486.6,576.1 L487.6,578.0 L488.6,579.8 L489.6,581.6 L490.6,583.5 L491.6,585.3 L492.6,587.2 L493.6,589.0 L494.6,590.9 L495.5,592.7 L496.5,594.6 L497.5,596.4 L498.5,598.3 L499.5,600.1 L500.5,602.0 L501.6,603.8 L502.6,605.6 L503.6,607.5 L504.7,609.3 L505.7,611.1 L506.8,612.9 L507.9,614.7 L509.0,616.5 L510.2,618.2 L511.3,620.0 L512.5,621.7 L513.7,623.5 L514.8,625.2 L516.0,626.9 L517.3,628.7 L518.5,630.3 L519.8,632.0 L521.1,633.7 L522.4,635.3 L523.8,636.9 L525.2,638.4 L526.6,639.9 L528.1,641.5 L529.6,642.9 L531.1,644.4 L532.7,645.8 L534.3,647.1 L535.9,648.5 L537.5,649.8 L539.1,651.2 L540.8,652.5 L542.5,653.7 L544.2,654.9 L545.9,656.1 L547.6,657.3 L549.3,658.5 L551.1,659.6 L552.9,660.7 L554.7,661.8 L556.5,662.9 L558.3,664.0 L560.1,665.0 L562.0,666.0 L563.9,666.9 L565.7,667.9 L567.6,668.8 L569.5,669.7 L571.4,670.6 L573.3,671.5 L575.2,672.4 L577.2,673.2 L579.1,674.0 L581.0,674.8 L583.0,675.6 L585.0,676.3 L586.9,677.0 L588.9,677.7 L590.9,678.3 L592.9,678.9 L595.0,679.4 L597.0,679.9 L599.1,680.4 L601.1,680.8 L603.2,681.3 L605.2,681.7 L607.3,682.1 L609.3,682.5 L611.4,682.8 L613.5,683.2 L615.5,683.6 L617.6,683.9 L619.7,684.2 L621.8,684.5 L623.9,684.8 L625.9,685.1 L628.0,685.4 L630.1,685.7 L632.2,686.0 L634.2,686.3 L636.3,686.6 L638.4,686.9 L640.5,687.2 L642.6,687.5 L644.6,687.8 L646.7,688.0 L648.8,688.3 L650.9,688.5 L653.0,688.7 L655.1,688.8 L657.2,688.9 L659.3,689.0 L661.4,689.1 L663.5,689.3 L665.6,689.4 L667.7,689.5 L669.8,689.6 L671.9,689.7 L674.0,689.8 L676.1,690.0 L678.2,690.1 L680.3,690.2 L682.4,690.3 L684.4,690.4 L686.5,690.5 L688.6,690.7 L690.7,690.8 L692.8,690.9 L694.9,691.0 L697.0,691.1 L699.1,691.2 L701.2,691.3 L703.3,691.4 L705.4,691.4 L707.5,691.4 L709.6,691.5 L711.7,691.5 L713.8,691.5 L715.9,691.6 L718.0,691.6 L720.1,691.6 L722.2,691.7 L724.3,691.7 L726.4,691.7 L728.5,691.8 L730.6,691.8 L732.7,691.8 L734.8,691.9 L736.9,691.9 L739.0,692.0 L741.1,692.0 L743.2,692.0 L745.3,692.1 L747.4,692.1 L749.5,692.1 L751.6,692.2 L753.7,692.2 L755.8,692.2 L757.9,692.3 L760.0,692.3 L762.1,692.3 L764.2,692.3 L766.3,692.3 L768.4,692.3 L770.5,692.3 L772.6,692.3 L774.7,692.3 L776.8,692.3 L778.9,692.3 L781.0,692.3 L783.1,692.3 L785.2,692.3 L787.3,692.3 L789.4,692.3 L791.5,692.3 L793.6,692.3 L795.7,692.3 L797.8,692.3 L799.9,692.3 L802.0,692.3 L804.1,692.3 L806.2,692.3 L808.3,692.3 L810.4,692.3 L812.5,692.3 L814.6,692.3 L816.7,692.3 L818.8,692.3 L820.9,692.3 L823.0,692.3 L825.1,692.3 L827.2,692.3 L829.3,692.3 L831.4,692.2 L833.5,692.1 L835.6,692.1 L837.7,692.0 L839.8,691.9 L841.9,691.8 L844.0,691.7 L846.1,691.6 L848.2,691.5 L850.3,691.4 L852.4,691.3 L854.5,691.2 L856.6,691.1 L858.7,691.0 L860.8,690.7 L862.8,690.4 L864.9,690.0 L867.0,689.5 L869.0,689.1 L871.1,688.7 L873.1,688.2 L875.2,687.8 L877.2,687.4 L879.3,687.0 L881.4,686.7 L883.4,686.4 L885.5,686.1 L887.6,685.8 L889.7,685.5 L891.8,685.3 L893.9,685.0 L895.9,684.7 L898.0,684.5 L900.1,684.2 L902.2,683.9 L904.3,683.6 L906.4,683.4 L908.4,683.1 L910.5,682.8 L912.6,682.6 L914.7,682.3 L916.8,682.0 L918.8,681.7 L920.9,681.5 L923.0,681.2 L925.1,680.9 L927.2,680.7 L929.3,680.4 L931.3,680.1 L933.4,679.9 L935.5,679.6 L937.6,679.3 L939.7,679.0 L941.8,678.7 L943.8,678.4 L945.9,678.1 L948.0,677.8 L950.1,677.5 L952.1,677.2 L954.2,676.9 L956.3,676.6 L958.4,676.3 L960.4,676.0 L962.4,675.7 L964.2,675.5 L966.0,675.2" fill="none" stroke="#b2a434" stroke-width="3.2" stroke-linejoin="round" stroke-linecap="round"/>
<path d="M113.0,529.0 L114.7,527.3 L116.0,526.0 L117.4,524.5 L118.9,523.0 L120.3,521.5 L121.7,519.9 L123.0,518.3 L124.2,516.6 L125.4,514.8 L126.6,513.1 L127.7,511.4 L128.8,509.6 L129.9,507.8 L130.9,505.9 L131.9,504.1 L132.9,502.3 L133.9,500.4 L134.9,498.5 L135.9,496.7 L136.8,494.8 L137.7,492.9 L138.6,491.0 L139.6,489.1 L140.5,487.2 L141.3,485.3 L142.2,483.4 L143.0,481.5 L143.8,479.5 L144.7,477.6 L145.5,475.7 L146.3,473.7 L147.1,471.8 L147.8,469.8 L148.4,467.8 L149.1,465.8 L149.8,463.8 L150.4,461.9 L151.1,459.9 L151.8,457.9 L152.4,455.9 L153.0,453.9 L153.6,451.8 L154.2,449.8 L154.8,447.8 L155.4,445.8 L156.1,443.8 L156.6,441.8 L157.2,439.8 L157.7,437.7 L158.2,435.7 L158.8,433.7 L159.3,431.6 L159.8,429.6 L160.3,427.5 L160.8,425.5 L161.3,423.5 L161.7,421.4 L162.2,419.4 L162.6,417.3 L163.0,415.3 L163.5,413.2 L163.9,411.1 L164.3,409.1 L164.8,407.0 L165.2,405.0 L165.6,402.9 L166.0,400.9 L166.4,398.8 L166.8,396.7 L167.2,394.7 L167.6,392.6 L168.0,390.5 L168.4,388.5 L168.8,386.4 L169.2,384.4 L169.6,382.3 L170.1,380.2 L170.5,378.2 L170.9,376.1 L171.3,374.1 L171.7,372.0 L172.1,370.0 L172.6,367.9 L173.0,365.8 L173.5,363.8 L173.9,361.7 L174.3,359.7 L174.8,357.6 L175.2,355.6 L175.6,353.5 L176.1,351.5 L176.5,349.4 L176.9,347.4 L177.4,345.3 L177.8,343.2 L178.2,341.2 L178.6,339.1 L179.0,337.1 L179.5,335.0 L179.9,333.0 L180.3,330.9 L180.8,328.8 L181.2,326.8 L181.7,324.7 L182.1,322.7 L182.6,320.6 L183.1,318.6 L183.5,316.6 L184.0,314.5 L184.5,312.5 L184.9,310.4 L185.4,308.4 L185.9,306.3 L186.4,304.3 L186.9,302.2 L187.3,300.2 L187.8,298.1 L188.3,296.1 L188.8,294.1 L189.2,292.0 L189.7,290.0 L190.2,287.9 L190.7,285.9 L191.2,283.8 L191.7,281.8 L192.2,279.8 L192.7,277.7 L193.2,275.7 L193.7,273.6 L194.2,271.6 L194.7,269.5 L195.1,267.5 L195.6,265.5 L196.1,263.4 L196.6,261.4 L197.1,259.3 L197.6,257.3 L198.1,255.3 L198.5,253.2 L199.0,251.2 L199.5,249.1 L199.9,247.1 L200.4,245.0 L200.8,243.0 L201.3,240.9 L201.7,238.9 L202.2,236.8 L202.7,234.8 L203.1,232.7 L203.6,230.7 L204.0,228.6 L204.5,226.6 L205.0,224.5 L205.4,222.5 L205.9,220.4 L206.4,218.4 L206.9,216.3 L207.3,214.3 L207.8,212.2 L208.3,210.2 L208.8,208.1 L209.3,206.1 L209.7,204.1 L210.2,202.0 L210.7,200.0 L211.2,197.9 L211.7,195.9 L212.2,193.9 L212.7,191.8 L213.3,189.8 L213.8,187.8 L214.3,185.7 L214.8,183.7 L215.4,181.7 L215.9,179.6 L216.5,177.6 L217.1,175.6 L217.7,173.6 L218.4,171.6 L219.0,169.6 L219.7,167.6 L220.3,165.6 L220.9,163.6 L221.6,161.6 L222.3,159.6 L223.1,157.7 L223.8,155.7 L224.6,153.8 L225.4,151.8 L226.2,149.9 L226.9,147.9 L227.7,146.0 L228.5,144.0 L229.3,142.1 L230.1,140.1 L230.9,138.2 L231.7,136.2 L232.5,134.3 L233.3,132.4 L234.2,130.4 L235.0,128.5 L235.8,126.6 L236.6,124.6 L237.5,122.7 L238.4,120.8 L239.3,118.9 L240.2,117.0 L241.1,115.1 L242.0,113.2 L242.9,111.3 L243.8,109.4 L244.7,107.6 L245.7,105.7 L246.6,103.8 L247.6,101.9 L248.5,100.1 L249.5,98.2 L250.5,96.4 L251.5,94.5 L252.6,92.7 L253.6,90.9 L254.8,89.1 L255.9,87.4 L257.2,85.7 L258.5,84.1 L259.8,82.5 L261.2,80.9 L262.6,79.3 L264.1,77.8 L265.6,76.4 L267.3,75.2 L269.1,74.1 L270.9,73.1 L272.8,72.4 L274.8,71.7 L276.9,71.2 L278.9,70.9 L281.0,70.8 L283.1,70.8 L285.2,70.9 L287.2,71.2 L289.2,71.6 L291.1,72.3 L293.0,73.3 L294.9,74.2 L296.7,75.2 L298.5,76.3 L300.2,77.5 L301.8,78.9 L303.4,80.2 L305.0,81.6 L306.6,82.9 L308.2,84.3 L309.8,85.7 L311.4,87.0 L313.0,88.4 L314.6,89.8 L316.2,91.1 L317.8,92.5 L319.4,93.9 L320.9,95.3 L322.5,96.7 L324.0,98.2 L325.4,99.7 L326.9,101.2 L328.4,102.7 L329.9,104.2 L331.3,105.7 L332.8,107.2 L334.2,108.7 L335.7,110.2 L337.1,111.8 L338.6,113.3 L340.0,114.8 L341.4,116.4 L342.8,118.0 L344.1,119.6 L345.4,121.2 L346.7,122.9 L348.0,124.6 L349.2,126.2 L350.5,127.9 L351.8,129.6 L352.9,131.3 L354.0,133.1 L355.1,134.9 L356.2,136.7 L357.3,138.5 L358.3,140.3 L359.4,142.1 L360.4,144.0 L361.3,145.9 L362.1,147.8 L362.9,149.7 L363.8,151.7 L364.6,153.6 L365.4,155.5 L366.3,157.4 L367.1,159.4 L367.9,161.3 L368.8,163.2 L369.6,165.2 L370.4,167.1 L371.2,169.1 L372.0,171.0 L372.8,172.9 L373.6,174.9 L374.3,176.8 L375.1,178.8 L375.9,180.7 L376.6,182.7 L377.4,184.7 L378.1,186.6 L378.8,188.6 L379.5,190.6 L380.1,192.6 L380.7,194.6 L381.3,196.6 L381.9,198.7 L382.4,200.7 L383.0,202.7 L383.6,204.7 L384.1,206.8 L384.6,208.8 L385.1,210.8 L385.6,212.9 L386.1,214.9 L386.6,216.9 L387.1,219.0 L387.7,221.0 L388.2,223.1 L388.7,225.1 L389.2,227.1 L389.7,229.2 L390.2,231.2 L390.8,233.2 L391.3,235.3 L391.8,237.3 L392.4,239.3 L392.9,241.4 L393.5,243.4 L394.0,245.4 L394.5,247.4 L395.1,249.5 L395.6,251.5 L396.1,253.5 L396.7,255.6 L397.2,257.6 L397.8,259.6 L398.3,261.6 L398.9,263.7 L399.4,265.7 L400.0,267.7 L400.6,269.7 L401.1,271.8 L401.7,273.8 L402.2,275.8 L402.8,277.8 L403.3,279.9 L403.9,281.9 L404.4,283.9 L405.0,286.0 L405.5,288.0 L406.0,290.0 L406.5,292.1 L407.0,294.1 L407.5,296.1 L408.0,298.2 L408.5,300.2 L409.0,302.3 L409.5,304.3 L410.0,306.3 L410.5,308.4 L411.0,310.4 L411.5,312.5 L412.0,314.5 L412.5,316.5 L413.0,318.6 L413.4,320.6 L413.9,322.7 L414.4,324.7 L414.8,326.8 L415.3,328.8 L415.8,330.9 L416.2,332.9 L416.7,335.0 L417.2,337.0 L417.6,339.1 L418.1,341.1 L418.5,343.2 L418.9,345.2 L419.4,347.3 L419.8,349.4 L420.2,351.4 L420.6,353.5 L421.0,355.5 L421.4,357.6 L421.8,359.7 L422.2,361.7 L422.6,363.8 L423.0,365.8 L423.4,367.9 L423.8,370.0 L424.2,372.0 L424.6,374.1 L425.0,376.1 L425.5,378.2 L425.9,380.3 L426.3,382.3 L426.7,384.4 L427.1,386.4 L427.5,388.5 L427.9,390.6 L428.3,392.6 L428.7,394.7 L429.2,396.7 L429.6,398.8 L430.1,400.8 L430.5,402.9 L431.0,404.9 L431.4,407.0 L431.9,409.0 L432.3,411.1 L432.8,413.1 L433.2,415.2 L433.7,417.2 L434.1,419.3 L434.6,421.3 L435.1,423.4 L435.5,425.4 L436.0,427.5 L436.5,429.5 L437.0,431.6 L437.5,433.6 L438.0,435.6 L438.5,437.7 L439.0,439.7 L439.5,441.8 L440.0,443.8 L440.5,445.8 L441.0,447.9 L441.5,449.9 L442.0,452.0 L442.5,454.0 L443.0,456.0 L443.5,458.1 L444.1,460.1 L444.6,462.1 L445.1,464.2 L445.6,466.2 L446.2,468.2 L446.7,470.3 L447.2,472.3 L447.7,474.3 L448.2,476.4 L448.8,478.4 L449.3,480.4 L449.9,482.5 L450.5,484.5 L451.0,486.5 L451.6,488.5 L452.2,490.5 L452.8,492.5 L453.4,494.6 L454.0,496.6 L454.6,498.6 L455.2,500.6 L455.7,502.6 L456.3,504.6 L456.9,506.7 L457.6,508.7 L458.2,510.7 L458.9,512.6 L459.5,514.6 L460.2,516.6 L460.9,518.6 L461.5,520.6 L462.2,522.6 L462.9,524.6 L463.5,526.6 L464.2,528.6 L464.9,530.6 L465.5,532.6 L466.2,534.5 L466.9,536.5 L467.6,538.5 L468.4,540.5 L469.1,542.4 L469.8,544.4 L470.6,546.4 L471.3,548.3 L472.0,550.3 L472.8,552.3 L473.6,554.2 L474.4,556.1 L475.3,558.1 L476.1,560.0 L477.0,561.9 L477.9,563.8 L478.7,565.7 L479.6,567.6 L480.5,569.5 L481.4,571.4 L482.3,573.3 L483.2,575.2 L484.2,577.1 L485.1,579.0 L486.0,580.8 L487.0,582.7 L488.0,584.6 L489.0,586.4 L490.1,588.2 L491.1,590.0 L492.1,591.9 L493.2,593.7 L494.2,595.5 L495.3,597.3 L496.3,599.1 L497.4,601.0 L498.5,602.8 L499.5,604.6 L500.6,606.4 L501.7,608.2 L502.8,609.9 L503.9,611.7 L505.1,613.5 L506.2,615.2 L507.4,617.0 L508.6,618.7 L509.8,620.4 L511.0,622.1 L512.2,623.8 L513.5,625.5 L514.7,627.2 L516.0,628.9 L517.3,630.5 L518.6,632.2 L520.0,633.8 L521.3,635.4 L522.7,637.0 L524.2,638.5 L525.6,640.0 L527.1,641.5 L528.6,642.9 L530.2,644.4 L531.7,645.7 L533.3,647.1 L535.0,648.4 L536.6,649.8 L538.2,651.1 L539.9,652.4 L541.6,653.6 L543.3,654.8 L545.0,656.0 L546.8,657.2 L548.5,658.3 L550.3,659.5 L552.1,660.5 L553.9,661.6 L555.7,662.7 L557.5,663.7 L559.4,664.7 L561.2,665.7 L563.1,666.7 L565.0,667.6 L566.9,668.5 L568.8,669.4 L570.7,670.3 L572.6,671.1 L574.5,671.9 L576.5,672.8 L578.4,673.6 L580.4,674.3 L582.3,675.1 L584.3,675.8 L586.3,676.4 L588.3,677.1 L590.3,677.8 L592.3,678.3 L594.3,678.9 L596.4,679.4 L598.4,679.8 L600.4,680.3 L602.5,680.8 L604.5,681.3 L606.6,681.7 L608.6,682.2 L610.7,682.6 L612.8,683.0 L614.8,683.5 L616.9,683.9 L618.9,684.3 L621.0,684.6 L623.1,684.9 L625.2,685.2 L627.2,685.5 L629.3,685.8 L631.4,686.1 L633.5,686.4 L635.6,686.7 L637.6,686.9 L639.7,687.2 L641.8,687.5 L643.9,687.8 L646.0,688.1 L648.0,688.4 L650.1,688.6 L652.2,688.8 L654.3,688.9 L656.4,689.0 L658.5,689.1 L660.6,689.3 L662.7,689.4 L664.8,689.5 L666.9,689.6 L669.0,689.7 L671.1,689.8 L673.2,690.0 L675.3,690.1 L677.4,690.2 L679.5,690.3 L681.6,690.4 L683.7,690.6 L685.8,690.7 L687.9,690.8 L690.0,690.9 L692.1,691.0 L694.2,691.1 L696.3,691.3 L698.4,691.4 L700.4,691.4 L702.5,691.5 L704.6,691.5 L706.7,691.6 L708.8,691.6 L710.9,691.6 L713.0,691.7 L715.1,691.7 L717.2,691.8 L719.3,691.8 L721.4,691.8 L723.5,691.9 L725.6,691.9 L727.7,691.9 L729.8,692.0 L731.9,692.0 L734.0,692.0 L736.1,692.1 L738.2,692.1 L740.3,692.1 L742.4,692.2 L744.5,692.2 L746.6,692.2 L748.7,692.3 L750.8,692.3 L752.9,692.3 L755.0,692.4 L757.1,692.4 L759.2,692.4 L761.3,692.5 L763.4,692.5 L765.5,692.5 L767.6,692.5 L769.7,692.5 L771.8,692.5 L773.9,692.5 L776.0,692.5 L778.1,692.5 L780.2,692.5 L782.3,692.5 L784.4,692.5 L786.5,692.5 L788.6,692.5 L790.7,692.5 L792.8,692.5 L794.9,692.5 L797.0,692.5 L799.1,692.5 L801.2,692.5 L803.3,692.5 L805.4,692.5 L807.5,692.5 L809.6,692.5 L811.7,692.5 L813.8,692.5 L815.9,692.5 L818.0,692.5 L820.1,692.5 L822.2,692.5 L824.4,692.5 L826.5,692.5 L828.6,692.4 L830.6,692.4 L832.7,692.3 L834.8,692.3 L836.9,692.2 L839.0,692.1 L841.1,692.0 L843.2,691.9 L845.3,691.9 L847.4,691.8 L849.5,691.7 L851.6,691.6 L853.7,691.5 L855.8,691.4 L857.9,691.3 L860.0,691.1 L862.1,690.8 L864.1,690.4 L866.2,690.0 L868.3,689.6 L870.3,689.2 L872.4,688.7 L874.4,688.3 L876.5,687.9 L878.6,687.5 L880.6,687.2 L882.7,686.9 L884.8,686.6 L886.9,686.3 L889.0,686.1 L891.0,685.8 L893.1,685.5 L895.2,685.3 L897.3,685.0 L899.4,684.7 L901.5,684.5 L903.5,684.2 L905.6,684.0 L907.7,683.7 L909.8,683.4 L911.9,683.2 L914.0,682.9 L916.0,682.6 L918.1,682.4 L920.2,682.1 L922.3,681.8 L924.4,681.6 L926.5,681.3 L928.5,681.0 L930.6,680.8 L932.7,680.5 L934.8,680.3 L936.9,680.0 L939.0,679.7 L941.0,679.4 L943.1,679.2 L945.2,678.9 L947.3,678.6 L949.4,678.3 L951.4,678.0 L953.5,677.7 L955.6,677.4 L957.7,677.1 L959.8,676.9 L961.8,676.6 L963.6,676.3 L966.0,676.0 L966.0,676.0" fill="none" stroke="#d49442" stroke-width="2.6" stroke-linejoin="round" stroke-linecap="round"/>
<path d="M113.0,525.1 L114.9,523.7 L116.4,522.6 L118.1,521.4 L119.8,520.1 L121.4,518.8 L122.9,517.3 L124.3,515.8 L125.6,514.1 L126.9,512.5 L128.2,510.9 L129.4,509.2 L130.6,507.4 L131.6,505.6 L132.7,503.8 L133.8,502.0 L134.8,500.2 L135.8,498.3 L136.8,496.5 L137.8,494.6 L138.7,492.7 L139.7,490.9 L140.6,489.0 L141.6,487.1 L142.5,485.2 L143.3,483.3 L144.2,481.4 L145.1,479.5 L146.0,477.6 L146.8,475.6 L147.6,473.7 L148.4,471.7 L149.1,469.8 L149.9,467.8 L150.7,465.9 L151.4,463.9 L152.1,461.9 L152.8,459.9 L153.5,458.0 L154.1,456.0 L154.8,454.0 L155.5,452.0 L156.1,450.0 L156.8,448.0 L157.3,446.0 L157.9,443.9 L158.4,441.9 L159.0,439.9 L159.5,437.8 L160.0,435.8 L160.5,433.8 L161.0,431.7 L161.5,429.7 L162.0,427.6 L162.5,425.6 L163.0,423.6 L163.4,421.5 L163.9,419.5 L164.4,417.4 L164.8,415.4 L165.3,413.3 L165.7,411.3 L166.1,409.2 L166.6,407.1 L167.0,405.1 L167.4,403.0 L167.8,401.0 L168.2,398.9 L168.7,396.9 L169.1,394.8 L169.5,392.7 L169.9,390.7 L170.4,388.6 L170.8,386.6 L171.2,384.5 L171.6,382.5 L172.1,380.4 L172.5,378.3 L172.9,376.3 L173.4,374.2 L173.8,372.2 L174.2,370.1 L174.7,368.1 L175.1,366.0 L175.5,364.0 L176.0,361.9 L176.4,359.8 L176.8,357.8 L177.3,355.7 L177.7,353.7 L178.1,351.6 L178.6,349.6 L179.0,347.5 L179.4,345.5 L179.8,343.4 L180.3,341.3 L180.7,339.3 L181.2,337.2 L181.6,335.2 L182.1,333.1 L182.6,331.1 L183.0,329.0 L183.5,327.0 L184.0,325.0 L184.4,322.9 L184.9,320.9 L185.4,318.8 L185.9,316.8 L186.4,314.7 L186.8,312.7 L187.3,310.6 L187.8,308.6 L188.3,306.5 L188.8,304.5 L189.2,302.5 L189.7,300.4 L190.2,298.4 L190.7,296.3 L191.2,294.3 L191.6,292.2 L192.1,290.2 L192.6,288.1 L193.0,286.1 L193.5,284.0 L194.0,282.0 L194.4,279.9 L194.9,277.9 L195.4,275.9 L195.9,273.8 L196.3,271.8 L196.8,269.7 L197.3,267.7 L197.7,265.6 L198.2,263.6 L198.6,261.5 L199.0,259.5 L199.5,257.4 L199.9,255.3 L200.4,253.3 L200.8,251.2 L201.2,249.2 L201.7,247.1 L202.1,245.1 L202.5,243.0 L203.0,241.0 L203.4,238.9 L203.9,236.9 L204.3,234.8 L204.8,232.8 L205.2,230.7 L205.7,228.7 L206.2,226.6 L206.7,224.6 L207.1,222.5 L207.6,220.5 L208.1,218.4 L208.6,216.4 L209.0,214.3 L209.5,212.3 L210.0,210.2 L210.5,208.2 L211.0,206.2 L211.4,204.1 L211.9,202.1 L212.4,200.0 L212.9,198.0 L213.4,195.9 L213.9,193.9 L214.4,191.9 L214.9,189.8 L215.4,187.8 L215.9,185.8 L216.5,183.7 L217.1,181.7 L217.8,179.7 L218.4,177.7 L219.0,175.7 L219.7,173.7 L220.3,171.7 L221.0,169.7 L221.7,167.7 L222.3,165.8 L223.1,163.8 L223.8,161.8 L224.6,159.9 L225.3,157.9 L226.1,155.9 L226.8,154.0 L227.5,152.0 L228.3,150.0 L229.0,148.1 L229.8,146.1 L230.6,144.2 L231.4,142.3 L232.3,140.3 L233.1,138.4 L233.9,136.5 L234.8,134.5 L235.6,132.6 L236.5,130.7 L237.3,128.8 L238.2,126.9 L239.1,125.0 L240.0,123.1 L240.9,121.2 L241.9,119.3 L242.8,117.4 L243.7,115.5 L244.6,113.7 L245.6,111.8 L246.6,109.9 L247.5,108.1 L248.5,106.2 L249.5,104.4 L250.5,102.5 L251.6,100.7 L252.7,98.9 L253.8,97.1 L254.9,95.4 L256.1,93.6 L257.3,91.9 L258.6,90.3 L259.9,88.6 L261.3,87.0 L262.7,85.5 L264.1,83.9 L265.6,82.5 L267.2,81.1 L268.9,79.9 L270.6,78.7 L272.5,77.8 L274.4,76.9 L276.3,76.2 L278.3,75.6 L280.4,75.3 L282.4,75.2 L284.5,75.2 L286.6,75.3 L288.6,75.6 L290.6,76.2 L292.5,77.0 L294.4,78.0 L296.2,78.9 L298.0,80.0 L299.8,81.1 L301.4,82.4 L303.1,83.7 L304.7,85.1 L306.3,86.4 L307.9,87.8 L309.5,89.2 L311.0,90.5 L312.6,91.9 L314.2,93.3 L315.8,94.7 L317.4,96.1 L319.0,97.4 L320.5,98.9 L322.0,100.3 L323.5,101.8 L325.0,103.3 L326.5,104.8 L327.9,106.3 L329.4,107.8 L330.8,109.3 L332.3,110.9 L333.7,112.4 L335.1,114.0 L336.5,115.5 L337.9,117.1 L339.3,118.7 L340.7,120.2 L342.0,121.9 L343.3,123.5 L344.6,125.2 L345.8,126.9 L347.1,128.6 L348.3,130.3 L349.5,132.0 L350.8,133.7 L351.9,135.4 L353.0,137.2 L354.0,139.0 L355.0,140.9 L356.0,142.7 L357.0,144.6 L358.0,146.4 L359.0,148.3 L359.9,150.2 L360.8,152.1 L361.7,154.0 L362.5,155.9 L363.3,157.9 L364.1,159.8 L365.0,161.7 L365.8,163.7 L366.6,165.6 L367.4,167.5 L368.2,169.5 L369.0,171.4 L369.8,173.4 L370.6,175.3 L371.4,177.3 L372.1,179.2 L372.9,181.2 L373.7,183.1 L374.4,185.1 L375.1,187.1 L375.8,189.1 L376.4,191.0 L377.1,193.0 L377.8,195.0 L378.4,197.0 L379.0,199.0 L379.6,201.1 L380.2,203.1 L380.8,205.1 L381.3,207.1 L381.9,209.1 L382.5,211.2 L383.0,213.2 L383.5,215.2 L384.1,217.3 L384.6,219.3 L385.1,221.3 L385.6,223.4 L386.1,225.4 L386.6,227.4 L387.1,229.5 L387.7,231.5 L388.2,233.6 L388.7,235.6 L389.2,237.6 L389.7,239.7 L390.3,241.7 L390.8,243.7 L391.4,245.7 L391.9,247.8 L392.5,249.8 L393.0,251.8 L393.6,253.8 L394.1,255.9 L394.7,257.9 L395.3,259.9 L395.8,261.9 L396.4,264.0 L396.9,266.0 L397.5,268.0 L398.0,270.0 L398.6,272.1 L399.1,274.1 L399.7,276.1 L400.2,278.2 L400.8,280.2 L401.3,282.2 L401.9,284.2 L402.4,286.3 L402.9,288.3 L403.5,290.3 L404.0,292.4 L404.6,294.4 L405.1,296.4 L405.6,298.5 L406.0,300.5 L406.5,302.6 L407.0,304.6 L407.4,306.7 L407.9,308.7 L408.4,310.8 L408.8,312.8 L409.3,314.9 L409.8,316.9 L410.2,318.9 L410.7,321.0 L411.2,323.0 L411.6,325.1 L412.1,327.1 L412.6,329.2 L413.0,331.2 L413.5,333.3 L413.9,335.3 L414.4,337.4 L414.8,339.4 L415.3,341.5 L415.8,343.5 L416.2,345.6 L416.7,347.6 L417.1,349.7 L417.6,351.7 L418.0,353.8 L418.5,355.8 L418.9,357.9 L419.3,360.0 L419.8,362.0 L420.2,364.1 L420.6,366.1 L421.0,368.2 L421.5,370.2 L421.9,372.3 L422.3,374.4 L422.7,376.4 L423.2,378.5 L423.6,380.5 L424.0,382.6 L424.4,384.6 L424.8,386.7 L425.3,388.8 L425.7,390.8 L426.1,392.9 L426.5,394.9 L426.9,397.0 L427.4,399.0 L427.8,401.1 L428.2,403.2 L428.6,405.2 L429.1,407.3 L429.5,409.3 L430.0,411.4 L430.5,413.4 L431.0,415.5 L431.4,417.5 L431.9,419.6 L432.4,421.6 L432.9,423.6 L433.3,425.7 L433.8,427.7 L434.3,429.8 L434.8,431.8 L435.2,433.9 L435.7,435.9 L436.2,438.0 L436.7,440.0 L437.2,442.0 L437.7,444.1 L438.2,446.1 L438.8,448.2 L439.3,450.2 L439.8,452.2 L440.3,454.3 L440.8,456.3 L441.3,458.3 L441.8,460.4 L442.3,462.4 L442.9,464.4 L443.4,466.5 L443.9,468.5 L444.5,470.5 L445.0,472.6 L445.5,474.6 L446.1,476.6 L446.6,478.7 L447.2,480.7 L447.7,482.7 L448.2,484.8 L448.8,486.8 L449.3,488.8 L449.9,490.8 L450.5,492.8 L451.1,494.9 L451.6,496.9 L452.2,498.9 L452.8,500.9 L453.4,502.9 L454.0,504.9 L454.6,507.0 L455.2,509.0 L455.8,511.0 L456.4,513.0 L457.0,515.0 L457.6,517.0 L458.2,519.0 L458.9,521.0 L459.6,523.0 L460.3,525.0 L461.0,527.0 L461.6,529.0 L462.3,530.9 L463.0,532.9 L463.7,534.9 L464.4,536.9 L465.1,538.9 L465.7,540.9 L466.4,542.9 L467.2,544.8 L467.9,546.8 L468.7,548.8 L469.4,550.7 L470.2,552.7 L471.0,554.6 L471.7,556.6 L472.5,558.5 L473.3,560.5 L474.2,562.4 L475.0,564.3 L475.9,566.2 L476.8,568.1 L477.6,570.0 L478.5,571.9 L479.4,573.8 L480.3,575.7 L481.3,577.6 L482.2,579.5 L483.2,581.3 L484.2,583.2 L485.1,585.1 L486.1,586.9 L487.1,588.8 L488.1,590.6 L489.2,592.4 L490.3,594.2 L491.3,596.0 L492.4,597.8 L493.5,599.6 L494.6,601.4 L495.8,603.2 L496.9,604.9 L498.0,606.7 L499.2,608.5 L500.3,610.2 L501.5,611.9 L502.7,613.7 L503.9,615.4 L505.2,617.1 L506.4,618.8 L507.7,620.5 L509.0,622.1 L510.2,623.8 L511.5,625.4 L512.9,627.1 L514.2,628.7 L515.5,630.3 L516.9,631.9 L518.3,633.5 L519.7,635.0 L521.1,636.6 L522.6,638.1 L524.1,639.6 L525.6,641.0 L527.1,642.5 L528.6,643.9 L530.2,645.3 L531.8,646.6 L533.5,647.9 L535.1,649.3 L536.8,650.6 L538.4,651.8 L540.1,653.1 L541.8,654.3 L543.6,655.5 L545.3,656.6 L547.1,657.8 L548.8,658.9 L550.6,660.0 L552.4,661.1 L554.3,662.1 L556.1,663.1 L557.9,664.2 L559.8,665.1 L561.7,666.1 L563.6,667.0 L565.5,667.9 L567.4,668.8 L569.3,669.6 L571.2,670.5 L573.1,671.3 L575.1,672.0 L577.0,672.8 L579.0,673.6 L581.0,674.3 L582.9,675.0 L584.9,675.7 L586.9,676.3 L588.9,677.0 L590.9,677.6 L593.0,678.1 L595.0,678.6 L597.0,679.1 L599.1,679.6 L601.1,680.1 L603.2,680.6 L605.2,681.1 L607.2,681.6 L609.3,682.2 L611.3,682.7 L613.4,683.2 L615.4,683.7 L617.4,684.1 L619.5,684.5 L621.6,684.8 L623.7,685.1 L625.7,685.4 L627.8,685.7 L629.9,686.0 L632.0,686.3 L634.1,686.6 L636.1,686.9 L638.2,687.2 L640.3,687.5 L642.4,687.8 L644.5,688.1 L646.5,688.3 L648.6,688.6 L650.7,688.8 L652.8,689.0 L654.9,689.1 L657.0,689.2 L659.1,689.3 L661.2,689.5 L663.3,689.6 L665.4,689.7 L667.5,689.8 L669.6,689.9 L671.7,690.0 L673.8,690.2 L675.9,690.3 L678.0,690.4 L680.1,690.5 L682.2,690.6 L684.3,690.7 L686.4,690.9 L688.5,691.0 L690.6,691.1 L692.6,691.2 L694.7,691.3 L696.8,691.4 L698.9,691.5 L701.0,691.6 L703.1,691.7 L705.2,691.7 L707.3,691.8 L709.4,691.8 L711.5,691.8 L713.6,691.9 L715.7,691.9 L717.8,691.9 L719.9,692.0 L722.0,692.0 L724.1,692.0 L726.2,692.1 L728.3,692.1 L730.4,692.1 L732.5,692.2 L734.6,692.2 L736.7,692.2 L738.8,692.3 L740.9,692.3 L743.0,692.3 L745.1,692.4 L747.2,692.4 L749.3,692.5 L751.4,692.5 L753.5,692.5 L755.6,692.6 L757.7,692.6 L759.8,692.6 L761.9,692.6 L764.0,692.6 L766.1,692.6 L768.2,692.6 L770.3,692.6 L772.4,692.6 L774.5,692.6 L776.6,692.6 L778.7,692.6 L780.8,692.6 L782.9,692.6 L785.0,692.6 L787.1,692.6 L789.2,692.6 L791.3,692.6 L793.4,692.6 L795.5,692.6 L797.6,692.6 L799.7,692.6 L801.8,692.6 L803.9,692.6 L806.0,692.6 L808.2,692.6 L810.3,692.6 L812.4,692.6 L814.5,692.6 L816.6,692.6 L818.7,692.6 L820.8,692.6 L822.9,692.6 L825.0,692.6 L827.1,692.6 L829.2,692.6 L831.3,692.6 L833.4,692.5 L835.5,692.4 L837.6,692.4 L839.6,692.3 L841.7,692.2 L843.8,692.1 L845.9,692.0 L848.0,692.0 L850.1,691.9 L852.2,691.8 L854.3,691.7 L856.4,691.6 L858.5,691.5 L860.6,691.3 L862.7,691.0 L864.7,690.6 L866.8,690.2 L868.9,689.8 L870.9,689.4 L873.0,689.0 L875.1,688.6 L877.1,688.2 L879.2,687.8 L881.3,687.5 L883.3,687.2 L885.4,686.9 L887.5,686.7 L889.6,686.4 L891.7,686.2 L893.8,685.9 L895.8,685.6 L897.9,685.4 L900.0,685.1 L902.1,684.9 L904.2,684.6 L906.3,684.4 L908.4,684.1 L910.4,683.8 L912.5,683.6 L914.6,683.3 L916.7,683.1 L918.8,682.8 L920.9,682.6 L922.9,682.3 L925.0,682.0 L927.1,681.8 L929.2,681.5 L931.3,681.3 L933.4,681.0 L935.5,680.7 L937.5,680.5 L939.6,680.2 L941.7,680.0 L943.8,679.7 L945.9,679.4 L948.0,679.1 L950.0,678.9 L952.1,678.6 L954.2,678.3 L956.3,678.1 L958.4,677.8 L960.4,677.5 L962.4,677.3 L964.2,677.0 L966.0,676.8" fill="none" stroke="#d478b4" stroke-width="2.0" stroke-linejoin="round" stroke-linecap="round"/>
<path d="M113.0,521.0 L115.2,520.1 L116.9,519.3 L118.8,518.5 L120.7,517.7 L122.6,516.8 L124.3,515.7 L125.8,514.4 L127.2,512.8 L128.5,511.2 L129.8,509.5 L131.1,507.8 L132.2,506.1 L133.3,504.3 L134.4,502.5 L135.5,500.7 L136.5,498.9 L137.6,497.1 L138.6,495.2 L139.6,493.4 L140.5,491.5 L141.5,489.6 L142.4,487.7 L143.4,485.9 L144.3,484.0 L145.2,482.1 L146.2,480.2 L147.1,478.4 L148.1,476.5 L149.0,474.6 L149.9,472.7 L150.8,470.8 L151.6,468.9 L152.3,466.9 L153.1,464.9 L153.8,463.0 L154.5,461.0 L155.3,459.0 L156.0,457.1 L156.7,455.1 L157.3,453.1 L157.9,451.1 L158.4,449.0 L159.0,447.0 L159.5,445.0 L160.1,442.9 L160.6,440.9 L161.2,438.9 L161.7,436.9 L162.2,434.8 L162.7,432.8 L163.2,430.7 L163.7,428.7 L164.2,426.7 L164.7,424.6 L165.2,422.6 L165.7,420.5 L166.2,418.5 L166.6,416.5 L167.1,414.4 L167.5,412.3 L167.9,410.3 L168.4,408.2 L168.8,406.2 L169.2,404.1 L169.7,402.1 L170.1,400.0 L170.5,398.0 L171.0,395.9 L171.4,393.8 L171.8,391.8 L172.3,389.7 L172.7,387.7 L173.1,385.6 L173.6,383.6 L174.0,381.5 L174.4,379.5 L174.9,377.4 L175.3,375.4 L175.7,373.3 L176.2,371.2 L176.6,369.2 L177.0,367.1 L177.5,365.1 L177.9,363.0 L178.4,361.0 L178.8,358.9 L179.2,356.9 L179.7,354.8 L180.1,352.8 L180.5,350.7 L181.0,348.6 L181.4,346.6 L181.9,344.5 L182.3,342.5 L182.8,340.4 L183.3,338.4 L183.8,336.4 L184.3,334.3 L184.8,332.3 L185.2,330.2 L185.7,328.2 L186.2,326.1 L186.7,324.1 L187.2,322.1 L187.7,320.0 L188.1,318.0 L188.6,315.9 L189.1,313.9 L189.6,311.8 L190.1,309.8 L190.5,307.7 L191.0,305.7 L191.5,303.7 L191.9,301.6 L192.4,299.5 L192.8,297.5 L193.3,295.4 L193.7,293.4 L194.2,291.3 L194.6,289.3 L195.0,287.2 L195.5,285.2 L195.9,283.1 L196.4,281.1 L196.8,279.0 L197.2,277.0 L197.7,274.9 L198.1,272.8 L198.5,270.8 L198.9,268.7 L199.3,266.7 L199.7,264.6 L200.1,262.5 L200.5,260.5 L200.9,258.4 L201.3,256.4 L201.8,254.3 L202.2,252.2 L202.6,250.2 L203.0,248.1 L203.5,246.1 L203.9,244.0 L204.4,242.0 L204.9,239.9 L205.3,237.9 L205.8,235.9 L206.3,233.8 L206.8,231.8 L207.2,229.7 L207.7,227.7 L208.2,225.6 L208.7,223.6 L209.1,221.5 L209.6,219.5 L210.1,217.4 L210.5,215.4 L211.0,213.3 L211.5,211.3 L211.9,209.2 L212.4,207.2 L212.9,205.1 L213.3,203.1 L213.8,201.1 L214.3,199.0 L214.7,197.0 L215.2,194.9 L215.7,192.9 L216.3,190.8 L216.9,188.8 L217.5,186.8 L218.1,184.8 L218.8,182.8 L219.5,180.8 L220.1,178.9 L220.8,176.9 L221.4,174.9 L222.1,172.9 L222.7,170.9 L223.4,168.9 L224.1,166.9 L224.9,164.9 L225.6,163.0 L226.3,161.0 L227.0,159.0 L227.8,157.1 L228.5,155.1 L229.2,153.1 L230.0,151.2 L230.8,149.2 L231.6,147.3 L232.5,145.4 L233.3,143.5 L234.2,141.6 L235.1,139.6 L235.9,137.7 L236.8,135.8 L237.6,133.9 L238.5,132.0 L239.5,130.1 L240.4,128.2 L241.3,126.3 L242.3,124.5 L243.2,122.6 L244.2,120.7 L245.1,118.8 L246.1,117.0 L247.1,115.1 L248.1,113.3 L249.1,111.4 L250.1,109.6 L251.1,107.8 L252.2,106.0 L253.3,104.2 L254.5,102.5 L255.7,100.7 L256.9,99.0 L258.1,97.3 L259.4,95.7 L260.7,94.0 L262.1,92.4 L263.5,90.9 L264.9,89.3 L266.4,87.8 L267.9,86.4 L269.5,85.0 L271.1,83.7 L272.8,82.5 L274.6,81.5 L276.5,80.7 L278.5,80.0 L280.5,79.5 L282.6,79.3 L284.6,79.2 L286.7,79.4 L288.8,79.6 L290.8,80.1 L292.7,80.9 L294.6,81.8 L296.4,82.8 L298.2,83.9 L299.9,85.1 L301.5,86.4 L303.2,87.7 L304.8,89.0 L306.4,90.4 L308.0,91.8 L309.6,93.1 L311.2,94.5 L312.7,95.9 L314.3,97.3 L315.9,98.7 L317.4,100.1 L319.0,101.5 L320.6,102.9 L322.1,104.3 L323.6,105.8 L325.1,107.3 L326.5,108.8 L328.0,110.4 L329.4,111.9 L330.8,113.5 L332.2,115.0 L333.6,116.6 L335.0,118.2 L336.3,119.8 L337.7,121.4 L339.0,123.0 L340.4,124.6 L341.7,126.2 L343.0,127.9 L344.3,129.5 L345.5,131.3 L346.7,133.0 L347.8,134.7 L349.0,136.5 L350.1,138.2 L351.3,140.0 L352.3,141.8 L353.3,143.7 L354.3,145.5 L355.2,147.4 L356.2,149.3 L357.1,151.2 L358.0,153.1 L358.9,155.0 L359.8,156.9 L360.6,158.8 L361.5,160.7 L362.3,162.7 L363.1,164.6 L363.9,166.5 L364.7,168.5 L365.5,170.4 L366.3,172.3 L367.1,174.3 L367.9,176.2 L368.7,178.2 L369.5,180.1 L370.2,182.1 L371.0,184.0 L371.7,186.0 L372.5,188.0 L373.2,189.9 L374.0,191.9 L374.7,193.9 L375.4,195.9 L376.0,197.9 L376.5,199.9 L377.1,201.9 L377.7,203.9 L378.2,206.0 L378.7,208.0 L379.3,210.0 L379.8,212.1 L380.4,214.1 L380.9,216.1 L381.5,218.1 L382.0,220.2 L382.5,222.2 L383.1,224.2 L383.6,226.3 L384.1,228.3 L384.6,230.3 L385.1,232.4 L385.6,234.4 L386.1,236.5 L386.6,238.5 L387.1,240.5 L387.6,242.6 L388.2,244.6 L388.7,246.6 L389.2,248.7 L389.8,250.7 L390.3,252.7 L390.9,254.7 L391.5,256.8 L392.1,258.8 L392.7,260.8 L393.2,262.8 L393.8,264.8 L394.4,266.9 L395.0,268.9 L395.5,270.9 L396.1,272.9 L396.7,274.9 L397.2,277.0 L397.8,279.0 L398.4,281.0 L398.9,283.0 L399.4,285.1 L400.0,287.1 L400.5,289.1 L401.1,291.1 L401.6,293.2 L402.2,295.2 L402.7,297.2 L403.3,299.3 L403.8,301.3 L404.3,303.3 L404.8,305.4 L405.3,307.4 L405.7,309.5 L406.1,311.5 L406.6,313.6 L407.0,315.6 L407.4,317.7 L407.8,319.8 L408.3,321.8 L408.7,323.9 L409.1,325.9 L409.6,328.0 L410.0,330.0 L410.4,332.1 L410.9,334.1 L411.3,336.2 L411.8,338.2 L412.2,340.3 L412.7,342.3 L413.1,344.4 L413.5,346.5 L414.0,348.5 L414.4,350.6 L414.9,352.6 L415.3,354.7 L415.8,356.7 L416.2,358.8 L416.6,360.8 L417.1,362.9 L417.5,364.9 L418.0,367.0 L418.5,369.0 L418.9,371.1 L419.4,373.1 L419.8,375.2 L420.3,377.2 L420.7,379.3 L421.2,381.3 L421.6,383.4 L422.1,385.4 L422.5,387.5 L422.9,389.5 L423.4,391.6 L423.8,393.7 L424.2,395.7 L424.7,397.8 L425.1,399.8 L425.5,401.9 L425.9,403.9 L426.4,406.0 L426.8,408.0 L427.2,410.1 L427.6,412.2 L428.1,414.2 L428.5,416.3 L429.0,418.3 L429.5,420.4 L430.0,422.4 L430.5,424.4 L431.0,426.5 L431.5,428.5 L432.0,430.6 L432.5,432.6 L433.0,434.6 L433.5,436.7 L434.0,438.7 L434.5,440.8 L435.0,442.8 L435.5,444.8 L436.0,446.9 L436.5,448.9 L437.0,450.9 L437.5,453.0 L438.1,455.0 L438.6,457.0 L439.1,459.1 L439.6,461.1 L440.1,463.2 L440.6,465.2 L441.2,467.2 L441.7,469.3 L442.2,471.3 L442.7,473.3 L443.3,475.4 L443.8,477.4 L444.4,479.4 L444.9,481.4 L445.5,483.5 L446.0,485.5 L446.6,487.5 L447.1,489.5 L447.7,491.6 L448.3,493.6 L448.8,495.6 L449.4,497.6 L449.9,499.7 L450.5,501.7 L451.1,503.7 L451.7,505.7 L452.3,507.7 L452.9,509.7 L453.5,511.8 L454.1,513.8 L454.6,515.8 L455.2,517.8 L455.8,519.8 L456.4,521.8 L457.0,523.8 L457.6,525.9 L458.2,527.9 L458.9,529.9 L459.6,531.9 L460.3,533.8 L461.0,535.8 L461.7,537.8 L462.4,539.8 L463.1,541.7 L463.8,543.7 L464.5,545.7 L465.2,547.7 L465.9,549.6 L466.7,551.6 L467.5,553.6 L468.3,555.5 L469.1,557.4 L469.9,559.4 L470.7,561.3 L471.5,563.3 L472.3,565.2 L473.1,567.1 L474.0,569.0 L474.8,570.9 L475.7,572.9 L476.6,574.8 L477.5,576.7 L478.4,578.6 L479.3,580.5 L480.2,582.3 L481.2,584.2 L482.2,586.0 L483.2,587.9 L484.2,589.7 L485.2,591.6 L486.3,593.4 L487.3,595.2 L488.4,597.0 L489.5,598.8 L490.6,600.6 L491.7,602.4 L492.8,604.1 L494.0,605.9 L495.2,607.6 L496.4,609.3 L497.6,611.0 L498.9,612.7 L500.1,614.4 L501.4,616.1 L502.8,617.7 L504.1,619.3 L505.4,621.0 L506.7,622.6 L508.1,624.2 L509.5,625.8 L510.9,627.3 L512.3,628.9 L513.7,630.5 L515.1,632.0 L516.5,633.5 L518.0,635.0 L519.5,636.5 L521.0,638.0 L522.5,639.5 L524.0,640.9 L525.6,642.3 L527.2,643.7 L528.8,645.0 L530.4,646.4 L532.0,647.7 L533.6,649.1 L535.3,650.3 L537.0,651.6 L538.7,652.8 L540.4,654.0 L542.1,655.2 L543.9,656.3 L545.6,657.5 L547.4,658.6 L549.2,659.6 L551.0,660.7 L552.9,661.8 L554.7,662.8 L556.6,663.8 L558.4,664.7 L560.3,665.6 L562.2,666.6 L564.1,667.5 L566.0,668.3 L567.9,669.1 L569.9,669.9 L571.8,670.8 L573.8,671.5 L575.7,672.3 L577.7,673.0 L579.7,673.7 L581.7,674.3 L583.7,675.0 L585.7,675.6 L587.7,676.2 L589.7,676.8 L591.7,677.4 L593.8,677.9 L595.8,678.4 L597.8,679.0 L599.9,679.5 L601.9,680.0 L603.9,680.5 L606.0,681.1 L608.0,681.6 L610.0,682.2 L612.0,682.8 L614.0,683.4 L616.1,683.9 L618.1,684.4 L620.2,684.8 L622.2,685.1 L624.3,685.4 L626.4,685.7 L628.5,686.0 L630.6,686.3 L632.6,686.6 L634.7,686.9 L636.8,687.2 L638.9,687.5 L641.0,687.7 L643.0,688.0 L645.1,688.3 L647.2,688.6 L649.3,688.8 L651.4,689.0 L653.5,689.2 L655.6,689.3 L657.7,689.4 L659.7,689.5 L661.8,689.7 L663.9,689.8 L666.0,689.9 L668.1,690.0 L670.2,690.1 L672.3,690.3 L674.4,690.4 L676.5,690.5 L678.6,690.6 L680.7,690.7 L682.8,690.8 L684.9,691.0 L687.0,691.1 L689.1,691.2 L691.2,691.3 L693.3,691.4 L695.4,691.5 L697.5,691.7 L699.6,691.7 L701.7,691.8 L703.8,691.9 L705.9,691.9 L708.0,691.9 L710.1,692.0 L712.2,692.0 L714.3,692.0 L716.4,692.1 L718.5,692.1 L720.6,692.1 L722.7,692.2 L724.8,692.2 L726.9,692.2 L729.0,692.3 L731.1,692.3 L733.2,692.4 L735.3,692.4 L737.4,692.4 L739.5,692.5 L741.6,692.5 L743.7,692.5 L745.8,692.6 L747.9,692.6 L750.0,692.6 L752.1,692.7 L754.2,692.7 L756.3,692.7 L758.4,692.8 L760.5,692.8 L762.6,692.8 L764.7,692.8 L766.8,692.8 L768.9,692.8 L771.0,692.8 L773.1,692.8 L775.2,692.8 L777.3,692.8 L779.4,692.8 L781.5,692.8 L783.6,692.8 L785.7,692.8 L787.8,692.8 L789.9,692.8 L792.0,692.8 L794.1,692.8 L796.2,692.8 L798.3,692.8 L800.4,692.8 L802.5,692.8 L804.6,692.8 L806.7,692.8 L808.8,692.8 L810.9,692.8 L813.0,692.8 L815.1,692.8 L817.2,692.8 L819.3,692.8 L821.4,692.8 L823.5,692.8 L825.6,692.8 L827.7,692.8 L829.8,692.8 L831.9,692.7 L834.0,692.7 L836.1,692.6 L838.2,692.5 L840.3,692.5 L842.4,692.4 L844.5,692.3 L846.6,692.2 L848.7,692.2 L850.8,692.1 L852.9,692.0 L855.0,692.0 L857.1,691.9 L859.2,691.7 L861.2,691.5 L863.3,691.2 L865.4,690.8 L867.4,690.4 L869.5,690.0 L871.6,689.6 L873.6,689.2 L875.7,688.8 L877.8,688.4 L879.8,688.1 L881.9,687.8 L884.0,687.5 L886.1,687.3 L888.2,687.0 L890.2,686.8 L892.3,686.5 L894.4,686.3 L896.5,686.0 L898.6,685.8 L900.7,685.5 L902.8,685.3 L904.8,685.0 L906.9,684.8 L909.0,684.5 L911.1,684.3 L913.2,684.0 L915.3,683.8 L917.4,683.5 L919.4,683.3 L921.5,683.0 L923.6,682.8 L925.7,682.5 L927.8,682.3 L929.9,682.0 L932.0,681.8 L934.0,681.5 L936.1,681.3 L938.2,681.0 L940.3,680.8 L942.4,680.5 L944.5,680.3 L946.5,680.0 L948.6,679.7 L950.7,679.5 L952.8,679.2 L954.9,679.0 L957.0,678.7 L959.1,678.5 L961.1,678.2 L963.1,678.0 L964.6,677.8 L966.0,677.6" fill="none" stroke="#802c1e" stroke-width="2.4" stroke-linejoin="round" stroke-linecap="round"/>
<path d="M113.0,527.0 L115.0,525.7 L116.5,524.6 L118.2,523.5 L120.0,522.3 L121.7,521.2 L123.4,520.0 L125.0,518.7 L126.4,517.2 L127.7,515.5 L128.8,513.7 L129.9,512.0 L131.0,510.2 L132.1,508.4 L133.1,506.5 L134.1,504.7 L135.1,502.8 L136.1,501.0 L137.1,499.1 L138.0,497.3 L139.0,495.4 L139.9,493.5 L140.9,491.6 L141.8,489.7 L142.8,487.9 L143.7,486.0 L144.7,484.2 L145.8,482.3 L146.9,480.5 L147.9,478.7 L149.0,476.9 L150.1,475.1 L151.0,473.3 L151.8,471.3 L152.4,469.3 L153.0,467.3 L153.6,465.3 L154.1,463.3 L154.7,461.2 L155.2,459.2 L155.8,457.2 L156.3,455.2 L156.9,453.1 L157.4,451.1 L157.9,449.1 L158.4,447.0 L159.0,445.0 L159.5,443.0 L160.0,440.9 L160.5,438.9 L161.0,436.9 L161.5,434.8 L162.0,432.8 L162.6,430.7 L163.1,428.7 L163.7,426.7 L164.2,424.7 L164.9,422.7 L165.5,420.7 L166.1,418.7 L166.7,416.6 L167.1,414.6 L167.5,412.5 L167.9,410.5 L168.3,408.4 L168.7,406.3 L169.0,404.3 L169.4,402.2 L169.8,400.1 L170.1,398.1 L170.5,396.0 L170.9,393.9 L171.3,391.9 L171.7,389.8 L172.1,387.7 L172.5,385.7 L172.9,383.6 L173.3,381.6 L173.8,379.5 L174.3,377.5 L174.8,375.4 L175.3,373.4 L175.8,371.4 L176.3,369.3 L176.8,367.3 L177.4,365.3 L177.9,363.2 L178.4,361.2 L178.9,359.1 L179.4,357.1 L179.9,355.1 L180.4,353.0 L180.9,351.0 L181.4,348.9 L181.9,346.9 L182.4,344.9 L182.9,342.8 L183.4,340.8 L183.9,338.7 L184.3,336.7 L184.8,334.6 L185.2,332.6 L185.7,330.5 L186.2,328.5 L186.6,326.4 L187.1,324.4 L187.5,322.3 L188.0,320.3 L188.4,318.2 L188.9,316.2 L189.4,314.1 L189.9,312.1 L190.3,310.0 L190.8,308.0 L191.2,305.9 L191.7,303.9 L192.0,301.8 L192.4,299.7 L192.8,297.7 L193.1,295.6 L193.5,293.5 L193.8,291.5 L194.2,289.4 L194.5,287.3 L194.9,285.3 L195.2,283.2 L195.6,281.1 L195.9,279.0 L196.3,277.0 L196.7,274.9 L197.1,272.8 L197.5,270.8 L197.8,268.7 L198.2,266.7 L198.6,264.6 L199.0,262.5 L199.4,260.5 L199.8,258.4 L200.2,256.3 L200.6,254.3 L201.0,252.2 L201.4,250.1 L201.8,248.1 L202.3,246.0 L202.7,244.0 L203.2,241.9 L203.7,239.9 L204.1,237.8 L204.6,235.8 L205.1,233.8 L205.6,231.7 L206.0,229.7 L206.5,227.6 L207.0,225.6 L207.5,223.5 L207.9,221.5 L208.4,219.4 L208.9,217.4 L209.4,215.4 L209.9,213.3 L210.4,211.3 L210.9,209.2 L211.4,207.2 L212.0,205.2 L212.5,203.1 L213.0,201.1 L213.5,199.0 L214.0,197.0 L214.5,195.0 L215.0,192.9 L215.6,190.9 L216.2,188.9 L216.8,186.9 L217.4,184.9 L218.0,182.9 L218.6,180.9 L219.3,178.9 L219.9,176.9 L220.5,174.8 L221.1,172.8 L221.8,170.8 L222.5,168.9 L223.2,166.9 L224.0,164.9 L224.7,163.0 L225.5,161.0 L226.3,159.1 L227.0,157.1 L227.8,155.2 L228.6,153.2 L229.4,151.3 L230.2,149.3 L231.1,147.4 L232.0,145.5 L232.8,143.6 L233.7,141.7 L234.6,139.8 L235.5,137.9 L236.4,136.0 L237.3,134.1 L238.2,132.2 L239.1,130.3 L240.1,128.5 L241.3,126.7 L242.4,125.0 L243.7,123.3 L244.9,121.6 L246.1,119.9 L247.3,118.1 L248.5,116.4 L249.8,114.8 L251.1,113.1 L252.4,111.5 L253.7,109.9 L255.1,108.2 L256.4,106.6 L257.8,105.0 L259.2,103.5 L260.6,101.9 L262.2,100.5 L263.8,99.2 L265.4,97.9 L267.1,96.6 L268.7,95.3 L270.5,94.3 L272.4,93.5 L274.4,93.0 L276.4,92.6 L278.5,92.2 L280.6,91.8 L282.6,91.7 L284.7,91.9 L286.7,92.2 L288.8,92.7 L290.8,93.2 L292.8,93.9 L294.7,94.6 L296.6,95.5 L298.5,96.5 L300.3,97.5 L302.2,98.5 L304.0,99.5 L305.8,100.6 L307.6,101.7 L309.4,102.8 L311.1,103.9 L312.8,105.2 L314.5,106.4 L316.1,107.7 L317.8,109.1 L319.4,110.4 L321.0,111.7 L322.6,113.1 L324.1,114.6 L325.6,116.1 L327.0,117.6 L328.5,119.1 L330.0,120.6 L331.5,122.1 L333.0,123.5 L334.5,125.0 L335.9,126.5 L337.4,128.0 L338.8,129.5 L340.2,131.1 L341.3,132.9 L342.4,134.6 L343.5,136.4 L344.6,138.2 L345.7,140.0 L346.8,141.8 L348.0,143.6 L349.1,145.3 L350.3,147.1 L351.5,148.8 L352.6,150.6 L353.8,152.3 L354.9,154.1 L356.0,155.9 L357.1,157.7 L358.2,159.5 L359.2,161.3 L360.2,163.1 L361.1,165.0 L362.0,167.0 L362.8,168.9 L363.6,170.8 L364.5,172.7 L365.3,174.7 L366.1,176.6 L366.8,178.6 L367.5,180.6 L368.2,182.6 L368.8,184.6 L369.5,186.5 L370.2,188.5 L370.8,190.5 L371.5,192.5 L372.1,194.5 L372.7,196.6 L373.3,198.6 L373.9,200.6 L374.5,202.6 L375.1,204.6 L375.6,206.6 L376.2,208.6 L376.8,210.7 L377.3,212.7 L377.9,214.7 L378.4,216.8 L379.0,218.8 L379.5,220.8 L380.1,222.8 L380.6,224.9 L381.2,226.9 L381.7,228.9 L382.2,231.0 L382.7,233.0 L383.2,235.0 L383.7,237.1 L384.2,239.1 L384.7,241.2 L385.2,243.2 L385.7,245.2 L386.2,247.3 L386.7,249.3 L387.2,251.4 L387.7,253.4 L388.2,255.5 L388.6,257.5 L389.1,259.5 L389.6,261.6 L390.1,263.6 L390.6,265.7 L391.0,267.7 L391.5,269.8 L392.0,271.8 L392.5,273.9 L393.0,275.9 L393.4,278.0 L393.9,280.0 L394.4,282.0 L394.9,284.1 L395.3,286.1 L395.8,288.2 L396.3,290.2 L396.7,292.3 L397.2,294.3 L397.7,296.4 L398.2,298.4 L398.6,300.5 L399.1,302.5 L399.6,304.6 L400.1,306.6 L400.5,308.7 L401.0,310.7 L401.5,312.7 L402.0,314.8 L402.5,316.8 L402.9,318.9 L403.4,320.9 L403.9,323.0 L404.4,325.0 L404.8,327.1 L405.3,329.1 L405.8,331.1 L406.3,333.2 L406.7,335.2 L407.2,337.3 L407.7,339.3 L408.2,341.4 L408.6,343.4 L409.1,345.5 L409.6,347.5 L410.1,349.6 L410.5,351.6 L411.0,353.7 L411.5,355.7 L411.9,357.8 L412.4,359.8 L412.9,361.9 L413.4,363.9 L413.8,365.9 L414.3,368.0 L414.8,370.0 L415.3,372.1 L415.8,374.1 L416.2,376.2 L416.7,378.2 L417.2,380.3 L417.7,382.3 L418.1,384.4 L418.6,386.4 L419.1,388.4 L419.6,390.5 L420.0,392.5 L420.5,394.6 L420.9,396.6 L421.4,398.7 L421.8,400.7 L422.3,402.8 L422.7,404.8 L423.2,406.9 L423.7,408.9 L424.1,411.0 L424.6,413.0 L425.0,415.1 L425.5,417.1 L425.9,419.2 L426.4,421.2 L426.9,423.3 L427.3,425.3 L427.8,427.4 L428.2,429.4 L428.7,431.5 L429.2,433.5 L429.6,435.6 L430.1,437.6 L430.5,439.7 L431.0,441.7 L431.5,443.8 L431.9,445.8 L432.4,447.9 L432.8,449.9 L433.3,452.0 L433.8,454.0 L434.2,456.1 L434.7,458.1 L435.1,460.2 L435.6,462.2 L436.1,464.3 L436.5,466.3 L437.0,468.4 L437.4,470.4 L437.9,472.5 L438.4,474.5 L439.0,476.6 L439.5,478.6 L440.0,480.6 L440.5,482.7 L441.1,484.7 L441.6,486.7 L442.1,488.8 L442.6,490.8 L443.2,492.8 L443.7,494.9 L444.2,496.9 L444.8,498.9 L445.3,500.9 L445.9,503.0 L446.4,505.0 L447.0,507.0 L447.5,509.0 L448.1,511.1 L448.6,513.1 L449.2,515.1 L449.7,517.2 L450.3,519.2 L450.8,521.2 L451.4,523.2 L451.9,525.3 L452.5,527.3 L453.1,529.3 L453.8,531.3 L454.5,533.3 L455.2,535.3 L455.9,537.2 L456.6,539.2 L457.3,541.2 L458.0,543.2 L458.7,545.1 L459.5,547.1 L460.3,549.0 L461.1,551.0 L461.9,552.9 L462.7,554.8 L463.5,556.8 L464.4,558.7 L465.2,560.7 L466.0,562.6 L466.8,564.5 L467.6,566.4 L468.5,568.4 L469.3,570.3 L470.2,572.2 L471.1,574.1 L471.9,576.0 L472.8,578.0 L473.6,579.9 L474.5,581.8 L475.4,583.7 L476.4,585.5 L477.4,587.4 L478.5,589.2 L479.5,591.0 L480.6,592.8 L481.7,594.6 L482.9,596.3 L484.0,598.1 L485.2,599.8 L486.4,601.6 L487.5,603.3 L488.7,605.1 L489.9,606.8 L491.1,608.5 L492.3,610.2 L493.6,611.9 L494.8,613.6 L496.1,615.3 L497.3,617.0 L498.6,618.7 L499.8,620.3 L501.2,622.0 L502.5,623.6 L503.8,625.2 L505.2,626.8 L506.5,628.5 L507.9,630.1 L509.3,631.6 L510.7,633.1 L512.2,634.6 L513.8,636.0 L515.3,637.5 L516.8,638.9 L518.4,640.3 L519.9,641.7 L521.5,643.1 L523.1,644.4 L524.7,645.8 L526.4,647.1 L528.0,648.5 L529.6,649.8 L531.2,651.1 L532.9,652.4 L534.6,653.6 L536.3,654.8 L538.0,656.0 L539.8,657.2 L541.6,658.3 L543.4,659.4 L545.2,660.4 L547.1,661.4 L548.9,662.4 L550.8,663.4 L552.6,664.3 L554.5,665.3 L556.4,666.2 L558.3,667.1 L560.2,668.0 L562.1,668.8 L564.1,669.6 L566.0,670.4 L568.0,671.2 L569.9,671.9 L571.9,672.7 L573.9,673.4 L575.9,674.0 L577.8,674.7 L579.8,675.4 L581.8,676.0 L583.8,676.7 L585.9,677.3 L587.9,677.8 L589.9,678.4 L591.9,678.9 L594.0,679.4 L596.0,679.8 L598.1,680.2 L600.1,680.7 L602.2,681.1 L604.2,681.6 L606.3,682.1 L608.3,682.6 L610.4,683.1 L612.4,683.6 L614.4,684.1 L616.5,684.6 L618.5,685.0 L620.6,685.4 L622.7,685.7 L624.8,686.0 L626.8,686.3 L628.9,686.6 L631.0,686.9 L633.1,687.1 L635.2,687.4 L637.2,687.7 L639.3,688.0 L641.4,688.3 L643.5,688.6 L645.6,688.9 L647.7,689.2 L649.7,689.4 L651.8,689.6 L653.9,689.7 L656.0,689.8 L658.1,689.9 L660.2,690.1 L662.3,690.2 L664.4,690.3 L666.5,690.4 L668.6,690.5 L670.7,690.6 L672.8,690.7 L674.9,690.8 L677.0,691.0 L679.1,691.1 L681.2,691.2 L683.3,691.3 L685.4,691.4 L687.5,691.5 L689.6,691.6 L691.7,691.8 L693.8,691.9 L695.9,692.0 L698.0,692.1 L700.1,692.2 L702.2,692.2 L704.3,692.3 L706.4,692.3 L708.5,692.3 L710.6,692.4 L712.7,692.4 L714.8,692.4 L716.9,692.5 L719.0,692.5 L721.1,692.6 L723.2,692.6 L725.3,692.6 L727.4,692.7 L729.5,692.7 L731.6,692.7 L733.7,692.8 L735.8,692.8 L737.9,692.8 L740.0,692.9 L742.1,692.9 L744.2,692.9 L746.3,693.0 L748.4,693.0 L750.5,693.0 L752.6,693.1 L754.7,693.1 L756.8,693.1 L758.9,693.2 L761.0,693.2 L763.1,693.2 L765.2,693.2 L767.3,693.2 L769.4,693.2 L771.5,693.2 L773.6,693.2 L775.7,693.2 L777.8,693.2 L779.9,693.2 L782.0,693.2 L784.1,693.2 L786.2,693.2 L788.3,693.2 L790.4,693.2 L792.5,693.2 L794.6,693.2 L796.7,693.2 L798.8,693.2 L800.9,693.2 L803.0,693.2 L805.1,693.2 L807.2,693.2 L809.3,693.2 L811.4,693.2 L813.5,693.2 L815.6,693.2 L817.7,693.2 L819.8,693.2 L821.9,693.2 L824.0,693.2 L826.1,693.2 L828.2,693.2 L830.3,693.2 L832.4,693.1 L834.5,693.1 L836.6,693.0 L838.7,693.0 L840.8,692.9 L842.9,692.9 L845.0,692.8 L847.1,692.7 L849.2,692.7 L851.3,692.6 L853.4,692.6 L855.5,692.5 L857.6,692.4 L859.7,692.3 L861.8,692.1 L863.8,691.7 L865.9,691.4 L868.0,691.0 L870.1,690.7 L872.1,690.3 L874.2,690.0 L876.3,689.6 L878.3,689.3 L880.4,689.0 L882.5,688.7 L884.6,688.5 L886.7,688.3 L888.8,688.0 L890.8,687.8 L892.9,687.6 L895.0,687.3 L897.1,687.1 L899.2,686.9 L901.3,686.7 L903.4,686.4 L905.5,686.2 L907.6,686.0 L909.6,685.7 L911.7,685.5 L913.8,685.3 L915.9,685.1 L918.0,684.8 L920.1,684.6 L922.2,684.4 L924.3,684.1 L926.3,683.9 L928.4,683.7 L930.5,683.4 L932.6,683.2 L934.7,683.0 L936.8,682.8 L938.9,682.5 L941.0,682.3 L943.0,682.0 L945.1,681.8 L947.2,681.6 L949.3,681.3 L951.4,681.1 L953.5,680.8 L955.6,680.6 L957.7,680.4 L959.7,680.1 L961.8,679.9 L963.6,679.7 L966.0,679.4 L966.0,679.4" fill="none" stroke="#96432f" stroke-width="2.8" stroke-linejoin="round" stroke-linecap="round"/>
<path d="M113.0,560.5 L115.3,560.1 L117.1,559.7 L119.1,559.1 L121.0,558.3 L122.9,557.5 L124.8,556.5 L126.5,555.3 L128.3,554.2 L129.9,552.9 L131.5,551.6 L133.1,550.1 L134.5,548.7 L136.0,547.2 L137.4,545.6 L138.8,544.0 L140.0,542.3 L141.3,540.6 L142.5,538.9 L143.6,537.2 L144.7,535.4 L145.7,533.5 L146.7,531.7 L147.6,529.8 L148.5,527.9 L149.5,526.0 L150.4,524.2 L151.4,522.3 L152.3,520.4 L153.2,518.5 L154.2,516.6 L155.1,514.8 L156.1,512.9 L157.0,511.0 L157.8,509.1 L158.6,507.1 L159.3,505.2 L159.9,503.2 L160.5,501.1 L161.1,499.1 L161.7,497.1 L162.3,495.1 L162.9,493.1 L163.5,491.1 L164.1,489.1 L164.7,487.1 L165.3,485.0 L165.9,483.0 L166.6,481.1 L167.3,479.1 L168.0,477.1 L168.7,475.1 L169.5,473.2 L170.2,471.2 L171.0,469.2 L171.7,467.3 L172.5,465.3 L173.2,463.4 L174.0,461.4 L174.8,459.4 L175.5,457.5 L176.2,455.5 L176.9,453.5 L177.5,451.5 L178.1,449.5 L178.7,447.5 L179.3,445.5 L179.8,443.4 L180.4,441.4 L181.0,439.4 L181.6,437.4 L182.2,435.4 L182.8,433.4 L183.3,431.3 L183.9,429.3 L184.5,427.3 L185.1,425.3 L185.7,423.3 L186.2,421.2 L186.8,419.2 L187.4,417.2 L188.0,415.2 L188.7,413.2 L189.3,411.2 L189.9,409.2 L190.6,407.2 L191.2,405.2 L191.9,403.2 L192.5,401.2 L193.2,399.2 L193.9,397.2 L194.6,395.3 L195.3,393.3 L196.0,391.3 L196.7,389.3 L197.4,387.4 L198.1,385.4 L198.9,383.4 L199.6,381.4 L200.3,379.5 L201.0,377.5 L201.7,375.5 L202.4,373.5 L203.2,371.6 L203.9,369.6 L204.6,367.6 L205.3,365.6 L206.0,363.7 L206.8,361.7 L207.5,359.7 L208.3,357.8 L209.1,355.8 L209.9,353.9 L210.7,352.0 L211.5,350.0 L212.3,348.1 L213.2,346.2 L214.1,344.3 L215.1,342.5 L216.2,340.6 L217.2,338.8 L218.2,337.0 L219.2,335.1 L220.3,333.3 L221.4,331.5 L222.5,329.8 L223.7,328.0 L224.9,326.3 L226.1,324.6 L227.3,322.9 L228.6,321.2 L229.9,319.5 L231.2,317.9 L232.6,316.4 L234.0,314.8 L235.4,313.2 L236.8,311.7 L238.4,310.3 L240.0,309.0 L241.7,307.7 L243.4,306.5 L245.1,305.3 L246.9,304.3 L248.8,303.3 L250.7,302.4 L252.6,301.6 L254.5,300.9 L256.6,300.3 L258.6,299.9 L260.7,299.5 L262.7,299.3 L264.8,299.1 L266.9,299.0 L269.0,299.1 L271.1,299.3 L273.1,299.8 L275.1,300.4 L277.1,301.0 L278.9,301.9 L280.7,303.0 L282.4,304.2 L284.0,305.5 L285.7,306.8 L287.3,308.2 L288.9,309.5 L290.5,310.9 L292.1,312.3 L293.6,313.6 L295.2,315.0 L296.8,316.4 L298.3,317.9 L299.8,319.3 L301.4,320.8 L302.8,322.2 L304.3,323.7 L305.8,325.2 L307.3,326.7 L308.7,328.3 L310.0,329.9 L311.2,331.6 L312.4,333.3 L313.6,335.1 L314.7,336.8 L315.9,338.6 L317.1,340.3 L318.2,342.0 L319.4,343.8 L320.6,345.5 L321.7,347.3 L322.9,349.0 L324.0,350.8 L325.2,352.6 L326.2,354.4 L327.2,356.2 L328.2,358.1 L329.1,360.0 L330.0,361.9 L331.0,363.7 L331.9,365.6 L332.8,367.5 L333.7,369.4 L334.7,371.3 L335.6,373.2 L336.5,375.1 L337.4,377.0 L338.3,378.8 L339.2,380.7 L340.1,382.6 L340.9,384.6 L341.7,386.5 L342.5,388.5 L343.3,390.4 L344.1,392.3 L344.9,394.3 L345.7,396.2 L346.5,398.2 L347.3,400.1 L348.2,402.0 L349.0,403.9 L350.0,405.8 L350.9,407.7 L351.8,409.6 L352.7,411.5 L353.6,413.4 L354.3,415.4 L355.0,417.3 L355.6,419.4 L356.2,421.4 L356.8,423.4 L357.4,425.4 L358.0,427.4 L358.6,429.4 L359.2,431.4 L359.8,433.5 L360.4,435.5 L361.0,437.5 L361.6,439.5 L362.3,441.5 L362.9,443.5 L363.6,445.5 L364.2,447.5 L364.9,449.5 L365.5,451.5 L366.1,453.5 L366.7,455.5 L367.3,457.5 L367.9,459.5 L368.5,461.5 L369.1,463.5 L369.7,465.5 L370.3,467.5 L370.9,469.6 L371.6,471.6 L372.2,473.6 L372.9,475.5 L373.7,477.5 L374.4,479.5 L375.1,481.4 L375.8,483.4 L376.6,485.4 L377.3,487.3 L378.0,489.3 L378.8,491.3 L379.5,493.3 L380.2,495.2 L380.9,497.2 L381.7,499.2 L382.4,501.2 L383.0,503.1 L383.7,505.1 L384.4,507.1 L385.1,509.1 L385.8,511.1 L386.5,513.0 L387.2,515.0 L387.9,517.0 L388.6,519.0 L389.3,521.0 L390.0,523.0 L390.7,524.9 L391.4,526.9 L392.1,528.9 L392.8,530.9 L393.6,532.8 L394.4,534.8 L395.2,536.7 L395.9,538.7 L396.7,540.6 L397.5,542.6 L398.3,544.5 L399.1,546.5 L399.9,548.4 L400.6,550.3 L401.4,552.3 L402.2,554.2 L403.0,556.2 L403.9,558.1 L404.7,560.0 L405.7,561.9 L406.6,563.8 L407.5,565.7 L408.5,567.5 L409.4,569.4 L410.4,571.3 L411.3,573.2 L412.3,575.0 L413.2,576.9 L414.3,578.7 L415.3,580.5 L416.4,582.3 L417.6,584.1 L418.7,585.8 L419.8,587.6 L421.0,589.4 L422.1,591.1 L423.3,592.9 L424.4,594.6 L425.6,596.4 L426.8,598.1 L427.9,599.9 L429.1,601.6 L430.3,603.4 L431.5,605.1 L432.7,606.8 L434.1,608.4 L435.4,610.0 L436.8,611.6 L438.1,613.2 L439.5,614.8 L440.9,616.4 L442.3,617.9 L443.8,619.4 L445.3,620.9 L446.8,622.4 L448.2,623.9 L449.7,625.4 L451.1,626.9 L452.5,628.5 L453.9,630.1 L455.3,631.7 L456.6,633.2 L458.0,634.8 L459.5,636.3 L461.0,637.8 L462.6,639.1 L464.2,640.5 L465.8,641.8 L467.5,643.1 L469.1,644.4 L470.8,645.6 L472.6,646.8 L474.3,648.0 L476.1,649.1 L477.9,650.2 L479.7,651.2 L481.6,652.2 L483.4,653.1 L485.3,654.1 L487.2,655.0 L489.1,655.9 L491.0,656.8 L492.9,657.7 L494.8,658.6 L496.7,659.4 L498.7,660.2 L500.6,660.9 L502.6,661.7 L504.6,662.4 L506.5,663.2 L508.4,664.0 L510.4,664.8 L512.3,665.6 L514.2,666.4 L516.2,667.2 L518.1,668.0 L520.1,668.7 L522.1,669.5 L524.0,670.2 L526.0,670.9 L528.0,671.7 L530.0,672.4 L531.9,673.1 L533.9,673.7 L535.9,674.4 L537.9,675.0 L540.0,675.5 L542.0,676.0 L544.1,676.5 L546.1,677.0 L548.1,677.5 L550.2,678.0 L552.2,678.4 L554.3,678.8 L556.3,679.3 L558.4,679.7 L560.5,680.1 L562.5,680.5 L564.6,680.9 L566.7,681.2 L568.7,681.6 L570.8,681.9 L572.9,682.2 L575.0,682.5 L577.0,682.8 L579.1,683.1 L581.2,683.3 L583.3,683.5 L585.4,683.7 L587.5,683.9 L589.6,684.1 L591.7,684.3 L593.8,684.4 L595.8,684.6 L597.9,684.8 L600.0,685.0 L602.1,685.1 L604.2,685.3 L606.3,685.4 L608.4,685.5 L610.5,685.6 L612.6,685.8 L614.7,685.9 L616.8,686.0 L618.9,686.0 L621.0,686.1 L623.1,686.1 L625.2,686.1 L627.3,686.2 L629.4,686.2 L631.5,686.3 L633.6,686.3 L635.7,686.3 L637.8,686.4 L639.9,686.4 L642.0,686.5 L644.1,686.6 L646.2,686.7 L648.3,686.8 L650.4,686.9 L652.5,687.0 L654.6,687.1 L656.7,687.2 L658.8,687.3 L660.9,687.4 L663.0,687.5 L665.1,687.5 L667.2,687.6 L669.3,687.7 L671.4,687.8 L673.5,687.9 L675.6,688.0 L677.7,688.1 L679.8,688.1 L681.9,688.2 L684.0,688.3 L686.1,688.3 L688.2,688.4 L690.3,688.5 L692.4,688.5 L694.4,688.6 L696.5,688.7 L698.6,688.7 L700.7,688.8 L702.8,688.9 L704.9,688.9 L707.0,689.0 L709.1,689.1 L711.2,689.1 L713.3,689.2 L715.4,689.3 L717.5,689.3 L719.6,689.4 L721.7,689.4 L723.8,689.4 L725.9,689.4 L728.0,689.5 L730.1,689.5 L732.2,689.5 L734.3,689.5 L736.4,689.5 L738.5,689.5 L740.6,689.6 L742.7,689.6 L744.8,689.6 L746.9,689.6 L749.0,689.6 L751.1,689.6 L753.2,689.6 L755.3,689.7 L757.4,689.7 L759.5,689.7 L761.6,689.7 L763.7,689.7 L765.8,689.7 L767.9,689.8 L770.0,689.8 L772.1,689.8 L774.2,689.8 L776.3,689.8 L778.4,689.8 L780.5,689.9 L782.6,689.9 L784.7,689.9 L786.8,689.9 L788.9,689.9 L791.0,689.9 L793.1,689.9 L795.2,690.0 L797.3,690.0 L799.4,690.0 L801.5,690.0 L803.6,690.0 L805.7,690.0 L807.8,690.0 L809.9,690.0 L812.0,690.0 L814.1,690.0 L816.2,690.0 L818.3,690.0 L820.4,690.0 L822.5,690.0 L824.6,690.0 L826.7,690.0 L828.8,690.0 L830.9,690.0 L833.0,690.0 L835.1,690.0 L837.2,690.0 L839.3,690.0 L841.4,690.0 L843.5,690.0 L845.6,690.0 L847.7,690.0 L849.8,690.0 L851.9,690.1 L854.0,690.1 L856.1,690.2 L858.2,690.2 L860.3,690.3 L862.4,690.3 L864.5,690.4 L866.6,690.4 L868.7,690.5 L870.8,690.6 L872.9,690.6 L875.0,690.7 L877.1,690.7 L879.2,690.8 L881.3,690.8 L883.4,690.9 L885.5,691.0 L887.6,691.0 L889.7,691.1 L891.8,691.2 L893.9,691.2 L896.0,691.3 L898.1,691.3 L900.2,691.4 L902.3,691.5 L904.4,691.5 L906.5,691.6 L908.6,691.7 L910.7,691.7 L912.8,691.8 L914.9,691.8 L917.0,691.9 L919.1,692.0 L921.2,692.0 L923.3,692.1 L925.4,692.1 L927.5,692.2 L929.6,692.2 L931.7,692.3 L933.8,692.3 L935.9,692.3 L938.0,692.4 L940.1,692.4 L942.2,692.5 L944.3,692.5 L946.4,692.6 L948.5,692.6 L950.6,692.7 L952.7,692.7 L954.8,692.8 L956.9,692.8 L959.0,692.8 L961.1,692.9 L963.0,692.9 L964.6,693.0 L966.0,693.0" fill="none" stroke="#8e3484" stroke-width="2.7" stroke-linejoin="round" stroke-linecap="round"/>
<rect x="113" y="23" width="895" height="675" fill="none" stroke="#161616" stroke-width="4.6"/>
<g font-family="Liberation Sans, sans-serif" font-weight="bold" font-size="25" fill="#1c1c1c" stroke="#1c1c1c" stroke-width="0.3"><text x="60.00" y="705.40">0</text><text x="60.00" y="649.15">0</text><text x="74.00" y="649.15">.</text><polygon points="87.01,632.07 90.89,632.07 90.89,649.15 87.01,649.15 87.01,638.12 82.25,639.21 82.25,635.54 85.11,633.91"/><text x="60.00" y="592.90">0</text><text x="74.00" y="592.90">.</text><text x="81.05" y="592.90">2</text><text x="60.00" y="536.65">0</text><text x="74.00" y="536.65">.</text><text x="81.05" y="536.65">3</text><text x="60.00" y="480.40">0</text><text x="74.00" y="480.40">.</text><text x="81.05" y="480.40">4</text><text x="60.00" y="424.15">0</text><text x="74.00" y="424.15">.</text><text x="81.05" y="424.15">5</text><text x="60.00" y="367.90">0</text><text x="74.00" y="367.90">.</text><text x="81.05" y="367.90">6</text><text x="60.00" y="311.65">0</text><text x="74.00" y="311.65">.</text><text x="81.05" y="311.65">7</text><text x="60.00" y="255.40">0</text><text x="74.00" y="255.40">.</text><text x="81.05" y="255.40">8</text><text x="60.00" y="199.15">0</text><text x="74.00" y="199.15">.</text><text x="81.05" y="199.15">9</text><polygon points="65.96,125.82 69.84,125.82 69.84,142.90 65.96,142.90 65.96,131.88 61.20,132.96 61.20,129.29 64.06,127.66"/><text x="74.00" y="142.90">.</text><text x="81.05" y="142.90">0</text><polygon points="65.96,69.57 69.84,69.57 69.84,86.65 65.96,86.65 65.96,75.62 61.20,76.71 61.20,73.04 64.06,71.41"/><text x="74.00" y="86.65">.</text><polygon points="87.01,69.57 90.89,69.57 90.89,86.65 87.01,86.65 87.01,75.62 82.25,76.71 82.25,73.04 85.11,71.41"/><polygon points="65.96,13.32 69.84,13.32 69.84,30.40 65.96,30.40 65.96,19.38 61.20,20.46 61.20,16.79 64.06,15.16"/><text x="74.00" y="30.40">.</text><text x="81.05" y="30.40">2</text></g>
<g font-family="Liberation Sans, sans-serif" font-weight="bold" font-size="36.8" fill="#1c1c1c" stroke="#fff" stroke-width="0.7"><text x="81.44" y="731.60">4</text><text x="103.14" y="731.60">0</text><text x="124.84" y="731.60">0</text><text x="208.76" y="731.60">5</text><text x="230.46" y="731.60">0</text><text x="252.16" y="731.60">0</text><text x="336.25" y="731.60">6</text><text x="357.95" y="731.60">0</text><text x="379.65" y="731.60">0</text><text x="463.73" y="731.60">7</text><text x="485.43" y="731.60">0</text><text x="507.13" y="731.60">0</text><text x="591.54" y="731.60">8</text><text x="613.24" y="731.60">0</text><text x="634.94" y="731.60">0</text><text x="719.08" y="731.60">9</text><text x="740.78" y="731.60">0</text><text x="762.48" y="731.60">0</text><polygon points="846.07,706.50 851.77,706.50 851.77,731.60 846.07,731.60 846.07,715.40 839.07,717.00 839.07,711.60 843.27,709.20"/><text x="855.57" y="731.60">0</text><text x="877.27" y="731.60">0</text><text x="898.97" y="731.60">0</text></g>
<g fill="none" stroke="#2a2a2a" stroke-width="2.9"><path d="M381.8,750.9 L388.4,771.3 L396.1,751.3 L403.3,771.3 L410.6,750.9"/><circle cx="423.90" cy="761.10" r="10.00"/><path d="M434.2,750.9 V772.7"/><path d="M438.6,750.9 L448.4,771.3 L458.2,750.9"/><path d="M460.40,761.10 H480.80 A10.20,10.20 0 1 0 478.41,767.66"/><path d="M486.2,742.8 V772.7"/><path d="M494.20,761.10 H514.60 A10.20,10.20 0 1 0 512.21,767.66"/><path d="M519.6,749.5 V772.7"/><path d="M519.60,772.70 V759.25 A8.35,8.35 0 0 1 536.30,759.25 V772.70"/><circle cx="551.30" cy="760.80" r="9.90"/><path d="M560.2,749.5 V774 C560.2,778 556.6,779.8 552,779.8 C548.6,779.8 546,778.6 544.8,776.6"/><path d="M570.6,744.7 V772.7 M566.6,751.8 H575.6"/><path d="M581.6,742.8 V772.7"/><path d="M581.60,772.70 V759.00 A8.10,8.10 0 0 1 597.80,759.00 V772.70"/><path d="M624.4,743.6 H618.6 V780.6 H624.4"/><path d="M627.4,749.5 V772.7"/><path d="M627.40,772.70 V759.00 A8.10,8.10 0 0 1 643.60,759.00 V772.70"/><path d="M650.2,749.5 V772.7"/><path d="M650.20,772.70 V759.05 A8.15,8.15 0 0 1 666.50,759.05 V772.70"/><path d="M666.50,772.70 V759.25 A8.35,8.35 0 0 1 683.20,759.25 V772.70"/><path d="M689.8,743.6 H695.5 V780.6 H689.8"/></g>
<g transform="translate(38.6,476) rotate(-90)" fill="none" stroke="#2a2a2a" stroke-width="2.9"><path stroke-linejoin="round" d="M1.0,0 L13.4,-30.2 L25.8,0 M5.3,-10.3 H21.5"/><path d="M30,-31.3 V0"/><circle cx="40.90" cy="-12.05" r="10.55"/><path d="M70.8,-19.2 C69.9,-21.6 67.8,-22.6 65.2,-22.6 C62,-22.6 59.8,-20.6 59.8,-17.6 C59.8,-14.4 62.6,-13.4 65.6,-12.3 C68.9,-11.1 71.3,-9.6 71.3,-6.3 C71.3,-3.2 68.7,-1.5 65.2,-1.5 C61.8,-1.5 59.6,-3.3 58.8,-5.8"/><circle cx="87.00" cy="-12.05" r="10.55"/><path d="M103.3,0 V-24.0 M103.3,-12 C103.3,-18.6 106,-22.6 110.4,-22.6"/><path d="M113.7,-31.3 V0"/><circle cx="124.60" cy="-12.05" r="10.55"/><circle cx="152.60" cy="-12.05" r="10.55"/><path d="M163.3,-24.0 V0"/><path d="M170.5,-24.0 V0"/><path d="M170.50,0.00 V-15.05 A7.55,7.55 0 0 1 185.60,-15.05 V0.00"/><path d="M212.84,-19.11 A10.55,10.55 0 1 0 212.84,-4.99"/><path d="M223.45,-12.05 H244.55 A10.55,10.55 0 1 0 242.08,-5.27"/></g>
</svg>
</body></html>
